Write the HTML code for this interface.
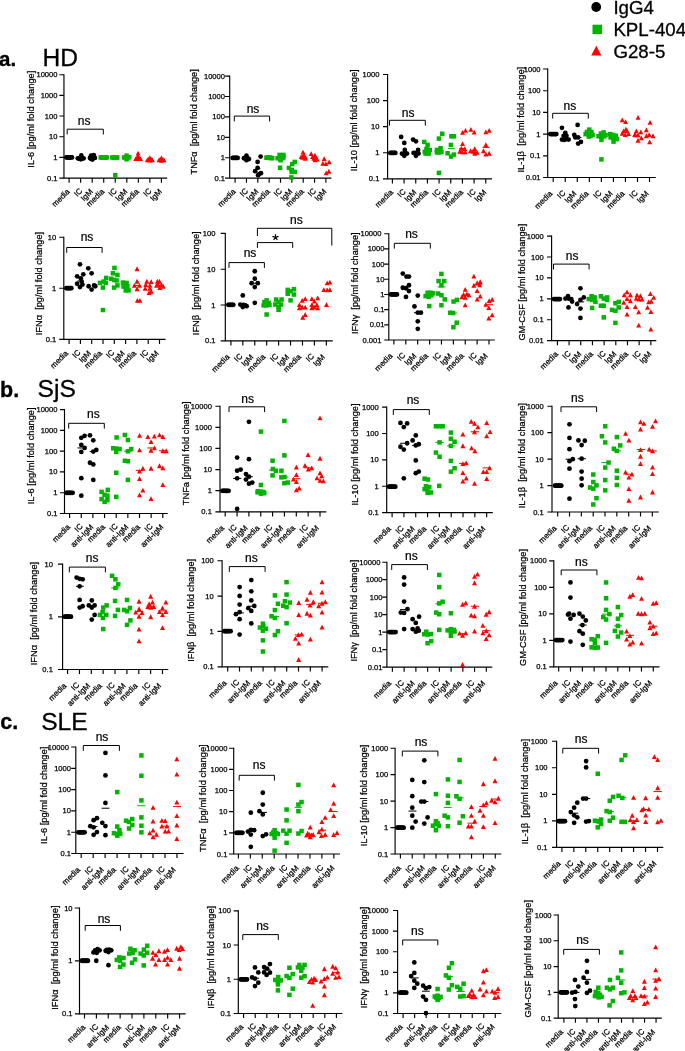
<!DOCTYPE html>
<html><head><meta charset="utf-8"><title>Figure</title>
<style>html,body{margin:0;padding:0;background:#fff}svg{display:block;will-change:transform;opacity:0.999}text{font-family:'Liberation Sans', sans-serif;fill:#000}text{stroke:#000;stroke-width:.3px}.p text{stroke-width:.25px}.p text.n{stroke-width:.22px}</style>
</head><body>
<svg width="685" height="1051" viewBox="0 0 685 1051">
<rect width="685" height="1051" fill="#fff"/>
<circle cx="596.2" cy="7" r="4.9" fill="#000"/>
<rect x="592.5" y="24.7" width="9.6" height="9.4" fill="#00b400"/>
<path d="M596.3 45.7L601.4 55.5H591.2Z" fill="#ff0000"/>
<text x="613.4" y="13.5" font-size="18.7">IgG4</text>
<text x="613.4" y="35.6" font-size="18.7">KPL-404</text>
<text x="613.4" y="57.8" font-size="18.7">G28-5</text>
<text x="-1" y="66.4" font-size="20.5" font-weight="bold" stroke-width="0.1">a.</text>
<text x="42.5" y="65.6" font-size="24.6">HD</text>
<text x="0" y="396.7" font-size="21.5" font-weight="bold" stroke-width="0.1">b.</text>
<text x="37.6" y="397.2" font-size="24.6">SjS</text>
<text x="0.3" y="728.5" font-size="21.5" font-weight="bold" stroke-width="0.1">c.</text>
<text x="41.2" y="730.4" font-size="24.6">SLE</text>
<g id="a1" class="p">
<path d="M63.95 74.2V178.05H167.2" fill="none" stroke="#000" stroke-width="1.15"/>
<text x="57.45" y="77.2" text-anchor="end" font-size="7.55">10000</text>
<text x="57.45" y="97.87" text-anchor="end" font-size="7.55">1000</text>
<text x="57.45" y="118.54" text-anchor="end" font-size="7.55">100</text>
<text x="57.45" y="139.21" text-anchor="end" font-size="7.55">10</text>
<text x="57.45" y="159.88" text-anchor="end" font-size="7.55">1</text>
<text x="57.45" y="180.55" text-anchor="end" font-size="7.55">0.1</text>
<path d="M59.35 74.7H63.95M59.35 95.37H63.95M59.35 116.04H63.95M59.35 136.71H63.95M59.35 157.38H63.95M59.35 178.05H63.95M69.1 178.05V182.65M80.64 178.05V182.65M92.18 178.05V182.65M103.72 178.05V182.65M115.26 178.05V182.65M126.8 178.05V182.65M138.34 178.05V182.65M149.88 178.05V182.65M161.42 178.05V182.65" fill="none" stroke="#000" stroke-width="1.15"/>
<text transform="translate(70.2 192.15) rotate(-45)" text-anchor="end" font-size="7.9">media</text>
<text transform="translate(82.74 191.35) rotate(-45)" text-anchor="end" font-size="7.9">IC</text>
<text transform="translate(93.28 192.15) rotate(-45)" text-anchor="end" font-size="7.9">IgM</text>
<text transform="translate(104.82 192.15) rotate(-45)" text-anchor="end" font-size="7.9">media</text>
<text transform="translate(117.36 191.35) rotate(-45)" text-anchor="end" font-size="7.9">IC</text>
<text transform="translate(127.9 192.15) rotate(-45)" text-anchor="end" font-size="7.9">IgM</text>
<text transform="translate(139.44 192.15) rotate(-45)" text-anchor="end" font-size="7.9">media</text>
<text transform="translate(151.98 191.35) rotate(-45)" text-anchor="end" font-size="7.9">IC</text>
<text transform="translate(162.52 192.15) rotate(-45)" text-anchor="end" font-size="7.9">IgM</text>
<text transform="translate(34.35 167.8) rotate(-90)" font-size="9.8" textLength="97.1" lengthAdjust="spacingAndGlyphs" xml:space="preserve">IL-6 [pg/ml fold change]</text>
<path d="M67.2 134.5V129.2H103.3V134.5" fill="none" stroke="#000" stroke-width="1.0"/>
<text x="84.1" y="124.7" class="n" text-anchor="middle" font-size="12">ns</text>
<circle cx="66.32" cy="157.44" r="2.38" fill="#000000"/>
<circle cx="67.32" cy="157.44" r="2.38" fill="#000000"/>
<circle cx="68.32" cy="157.44" r="2.38" fill="#000000"/>
<circle cx="69.15" cy="157.44" r="2.38" fill="#000000"/>
<circle cx="69.99" cy="157.44" r="2.38" fill="#000000"/>
<circle cx="70.98" cy="157.44" r="2.38" fill="#000000"/>
<circle cx="71.98" cy="157.44" r="2.38" fill="#000000"/>
<circle cx="77.81" cy="158.28" r="2.38" fill="#000000"/>
<circle cx="78.97" cy="158.61" r="2.38" fill="#000000"/>
<circle cx="80.14" cy="157.94" r="2.38" fill="#000000"/>
<circle cx="81.3" cy="155.45" r="2.38" fill="#000000"/>
<circle cx="82.47" cy="158.61" r="2.38" fill="#000000"/>
<circle cx="83.63" cy="158.28" r="2.38" fill="#000000"/>
<circle cx="80.8" cy="159.27" r="2.38" fill="#000000"/>
<circle cx="89.96" cy="157.94" r="2.38" fill="#000000"/>
<circle cx="91.12" cy="155.61" r="2.38" fill="#000000"/>
<circle cx="92.45" cy="156.94" r="2.38" fill="#000000"/>
<circle cx="93.78" cy="155.11" r="2.38" fill="#000000"/>
<circle cx="94.95" cy="157.94" r="2.38" fill="#000000"/>
<circle cx="92.45" cy="159.61" r="2.38" fill="#000000"/>
<circle cx="90.79" cy="158.78" r="2.38" fill="#000000"/>
<rect x="98.52" y="155.19" width="4.5" height="4.5" fill="#00b400"/>
<rect x="99.69" y="155.19" width="4.5" height="4.5" fill="#00b400"/>
<rect x="100.85" y="155.36" width="4.5" height="4.5" fill="#00b400"/>
<rect x="102.02" y="155.19" width="4.5" height="4.5" fill="#00b400"/>
<rect x="103.18" y="155.36" width="4.5" height="4.5" fill="#00b400"/>
<rect x="104.35" y="155.19" width="4.5" height="4.5" fill="#00b400"/>
<rect x="101.35" y="155.03" width="4.5" height="4.5" fill="#00b400"/>
<rect x="110.17" y="155.19" width="4.5" height="4.5" fill="#00b400"/>
<rect x="111.34" y="155.36" width="4.5" height="4.5" fill="#00b400"/>
<rect x="112.67" y="155.19" width="4.5" height="4.5" fill="#00b400"/>
<rect x="113.83" y="155.03" width="4.5" height="4.5" fill="#00b400"/>
<rect x="115" y="155.36" width="4.5" height="4.5" fill="#00b400"/>
<rect x="112.67" y="155.69" width="4.5" height="4.5" fill="#00b400"/>
<rect x="113" y="173" width="4.5" height="4.5" fill="#00b400"/>
<rect x="121.82" y="155.19" width="4.5" height="4.5" fill="#00b400"/>
<rect x="122.99" y="155.36" width="4.5" height="4.5" fill="#00b400"/>
<rect x="124.32" y="153.36" width="4.5" height="4.5" fill="#00b400"/>
<rect x="124.32" y="157.02" width="4.5" height="4.5" fill="#00b400"/>
<rect x="125.65" y="155.19" width="4.5" height="4.5" fill="#00b400"/>
<rect x="126.98" y="155.03" width="4.5" height="4.5" fill="#00b400"/>
<rect x="124.32" y="155.19" width="4.5" height="4.5" fill="#00b400"/>
<path d="M135.72 156.21L138.22 161.01H133.22Z" fill="#ff0000"/>
<path d="M136.88 155.54L139.38 160.34H134.38Z" fill="#ff0000"/>
<path d="M138.05 150.72L140.55 155.52H135.55Z" fill="#ff0000"/>
<path d="M138.05 153.38L140.55 158.18H135.55Z" fill="#ff0000"/>
<path d="M139.21 155.88L141.71 160.68H136.71Z" fill="#ff0000"/>
<path d="M140.55 156.21L143.05 161.01H138.05Z" fill="#ff0000"/>
<path d="M138.05 156.21L140.55 161.01H135.55Z" fill="#ff0000"/>
<path d="M147.37 157.54L149.87 162.34H144.87Z" fill="#ff0000"/>
<path d="M148.53 156.87L151.03 161.67H146.03Z" fill="#ff0000"/>
<path d="M149.87 155.21L152.37 160.01H147.37Z" fill="#ff0000"/>
<path d="M149.87 157.71L152.37 162.51H147.37Z" fill="#ff0000"/>
<path d="M151.2 157.04L153.7 161.84H148.7Z" fill="#ff0000"/>
<path d="M152.36 157.54L154.86 162.34H149.86Z" fill="#ff0000"/>
<path d="M159.02 157.54L161.52 162.34H156.52Z" fill="#ff0000"/>
<path d="M160.18 156.87L162.68 161.67H157.68Z" fill="#ff0000"/>
<path d="M161.51 155.54L164.01 160.34H159.01Z" fill="#ff0000"/>
<path d="M161.51 158.04L164.01 162.84H159.01Z" fill="#ff0000"/>
<path d="M162.85 157.04L165.35 161.84H160.35Z" fill="#ff0000"/>
<path d="M164.01 157.54L166.51 162.34H161.51Z" fill="#ff0000"/>
</g>
<g id="a2" class="p">
<path d="M229.7 75.6V178.1H331.4" fill="none" stroke="#000" stroke-width="1.15"/>
<text x="224.95" y="78.6" text-anchor="end" font-size="7.55">10000</text>
<text x="224.95" y="99" text-anchor="end" font-size="7.55">1000</text>
<text x="224.95" y="119.4" text-anchor="end" font-size="7.55">100</text>
<text x="224.95" y="139.8" text-anchor="end" font-size="7.55">10</text>
<text x="224.95" y="160.2" text-anchor="end" font-size="7.55">1</text>
<text x="224.95" y="180.6" text-anchor="end" font-size="7.55">0.1</text>
<path d="M225.1 76.1H229.7M225.1 96.5H229.7M225.1 116.9H229.7M225.1 137.3H229.7M225.1 157.7H229.7M225.1 178.1H229.7M235.1 178.1V182.7M246.45 178.1V182.7M257.8 178.1V182.7M269.15 178.1V182.7M280.5 178.1V182.7M291.85 178.1V182.7M303.2 178.1V182.7M314.55 178.1V182.7M325.9 178.1V182.7" fill="none" stroke="#000" stroke-width="1.15"/>
<text transform="translate(236.2 192.2) rotate(-45)" text-anchor="end" font-size="7.9">media</text>
<text transform="translate(248.55 191.4) rotate(-45)" text-anchor="end" font-size="7.9">IC</text>
<text transform="translate(258.9 192.2) rotate(-45)" text-anchor="end" font-size="7.9">IgM</text>
<text transform="translate(270.25 192.2) rotate(-45)" text-anchor="end" font-size="7.9">media</text>
<text transform="translate(282.6 191.4) rotate(-45)" text-anchor="end" font-size="7.9">IC</text>
<text transform="translate(292.95 192.2) rotate(-45)" text-anchor="end" font-size="7.9">IgM</text>
<text transform="translate(304.3 192.2) rotate(-45)" text-anchor="end" font-size="7.9">media</text>
<text transform="translate(316.65 191.4) rotate(-45)" text-anchor="end" font-size="7.9">IC</text>
<text transform="translate(327 192.2) rotate(-45)" text-anchor="end" font-size="7.9">IgM</text>
<text transform="translate(196.6 174.4) rotate(-90)" font-size="9.8" textLength="105.1" lengthAdjust="spacingAndGlyphs" xml:space="preserve">TNFα  [pg/ml fold change]</text>
<path d="M234.3 121.4V116.1H269.6V121.4" fill="none" stroke="#000" stroke-width="1.0"/>
<text x="253" y="112.5" class="n" text-anchor="middle" font-size="12">ns</text>
<path d="M255.62 168.56H260.28" stroke="#000000" stroke-width="1.0"/>
<circle cx="232.66" cy="157.91" r="2.38" fill="#000000"/>
<circle cx="233.66" cy="157.91" r="2.38" fill="#000000"/>
<circle cx="234.65" cy="157.91" r="2.38" fill="#000000"/>
<circle cx="235.65" cy="157.91" r="2.38" fill="#000000"/>
<circle cx="236.65" cy="157.91" r="2.38" fill="#000000"/>
<circle cx="237.65" cy="157.91" r="2.38" fill="#000000"/>
<circle cx="243.97" cy="158.25" r="2.38" fill="#000000"/>
<circle cx="245.3" cy="157.91" r="2.38" fill="#000000"/>
<circle cx="246.47" cy="155.75" r="2.38" fill="#000000"/>
<circle cx="246.47" cy="160.24" r="2.38" fill="#000000"/>
<circle cx="247.63" cy="158.25" r="2.38" fill="#000000"/>
<circle cx="248.97" cy="159.08" r="2.38" fill="#000000"/>
<circle cx="246.47" cy="158.25" r="2.38" fill="#000000"/>
<circle cx="260.61" cy="156.58" r="2.38" fill="#000000"/>
<circle cx="257.62" cy="161.91" r="2.38" fill="#000000"/>
<circle cx="257.62" cy="167.9" r="2.38" fill="#000000"/>
<circle cx="255.12" cy="171.23" r="2.38" fill="#000000"/>
<circle cx="260.95" cy="173.22" r="2.38" fill="#000000"/>
<circle cx="258.12" cy="175.22" r="2.38" fill="#000000"/>
<circle cx="259.28" cy="174.06" r="2.38" fill="#000000"/>
<rect x="264.19" y="155.5" width="4.5" height="4.5" fill="#00b400"/>
<rect x="265.35" y="155.33" width="4.5" height="4.5" fill="#00b400"/>
<rect x="266.52" y="155.66" width="4.5" height="4.5" fill="#00b400"/>
<rect x="267.68" y="155.5" width="4.5" height="4.5" fill="#00b400"/>
<rect x="268.85" y="155.66" width="4.5" height="4.5" fill="#00b400"/>
<rect x="270.01" y="156" width="4.5" height="4.5" fill="#00b400"/>
<rect x="267.02" y="155.16" width="4.5" height="4.5" fill="#00b400"/>
<rect x="277.34" y="152.67" width="4.5" height="4.5" fill="#00b400"/>
<rect x="281.16" y="152.67" width="4.5" height="4.5" fill="#00b400"/>
<rect x="277.34" y="156" width="4.5" height="4.5" fill="#00b400"/>
<rect x="280" y="156" width="4.5" height="4.5" fill="#00b400"/>
<rect x="275.34" y="156" width="4.5" height="4.5" fill="#00b400"/>
<rect x="281.16" y="155.16" width="4.5" height="4.5" fill="#00b400"/>
<rect x="277.84" y="165.48" width="4.5" height="4.5" fill="#00b400"/>
<rect x="278.33" y="157.99" width="4.5" height="4.5" fill="#00b400"/>
<rect x="292.48" y="159.66" width="4.5" height="4.5" fill="#00b400"/>
<rect x="289.98" y="161.82" width="4.5" height="4.5" fill="#00b400"/>
<rect x="286.66" y="165.65" width="4.5" height="4.5" fill="#00b400"/>
<rect x="289.48" y="167.65" width="4.5" height="4.5" fill="#00b400"/>
<rect x="292.48" y="169.64" width="4.5" height="4.5" fill="#00b400"/>
<rect x="289.48" y="169.64" width="4.5" height="4.5" fill="#00b400"/>
<rect x="289.15" y="175.13" width="4.5" height="4.5" fill="#00b400"/>
<path d="M303.05 149.69L305.55 154.49H300.55Z" fill="#ff0000"/>
<path d="M301.22 154.18L303.72 158.98H298.72Z" fill="#ff0000"/>
<path d="M302.55 155.01L305.05 159.81H300.05Z" fill="#ff0000"/>
<path d="M304.22 154.18L306.72 158.98H301.72Z" fill="#ff0000"/>
<path d="M305.55 155.01L308.05 159.81H303.05Z" fill="#ff0000"/>
<path d="M303.72 152.52L306.22 157.32H301.22Z" fill="#ff0000"/>
<path d="M305.05 155.85L307.55 160.65H302.55Z" fill="#ff0000"/>
<path d="M311.21 151.19L313.71 155.99H308.71Z" fill="#ff0000"/>
<path d="M312.54 154.18L315.04 158.98H310.04Z" fill="#ff0000"/>
<path d="M315.03 152.85L317.53 157.65H312.53Z" fill="#ff0000"/>
<path d="M313.87 155.85L316.37 160.65H311.37Z" fill="#ff0000"/>
<path d="M315.87 155.51L318.37 160.31H313.37Z" fill="#ff0000"/>
<path d="M317.2 156.68L319.7 161.48H314.7Z" fill="#ff0000"/>
<path d="M315.03 157.51L317.53 162.31H312.53Z" fill="#ff0000"/>
<path d="M324.19 156.18L326.69 160.98H321.69Z" fill="#ff0000"/>
<path d="M329.18 159.51L331.68 164.31H326.68Z" fill="#ff0000"/>
<path d="M322.85 160.84L325.35 165.64H320.35Z" fill="#ff0000"/>
<path d="M325.85 161.17L328.35 165.97H323.35Z" fill="#ff0000"/>
<path d="M328.85 168.83L331.35 173.63H326.35Z" fill="#ff0000"/>
<path d="M326.18 170.49L328.68 175.29H323.68Z" fill="#ff0000"/>
</g>
<g id="a3" class="p">
<path d="M387.6 74V178.8H492" fill="none" stroke="#000" stroke-width="1.15"/>
<text x="379.35" y="77" text-anchor="end" font-size="7.55">1000</text>
<text x="379.35" y="103.08" text-anchor="end" font-size="7.55">100</text>
<text x="379.35" y="129.15" text-anchor="end" font-size="7.55">10</text>
<text x="379.35" y="155.23" text-anchor="end" font-size="7.55">1</text>
<text x="379.35" y="181.3" text-anchor="end" font-size="7.55">0.1</text>
<path d="M383 74.5H387.6M383 100.58H387.6M383 126.65H387.6M383 152.73H387.6M383 178.8H387.6M392.4 178.8V183.4M404.07 178.8V183.4M415.74 178.8V183.4M427.41 178.8V183.4M439.08 178.8V183.4M450.75 178.8V183.4M462.42 178.8V183.4M474.09 178.8V183.4M485.76 178.8V183.4" fill="none" stroke="#000" stroke-width="1.15"/>
<text transform="translate(393.5 192.9) rotate(-45)" text-anchor="end" font-size="7.9">media</text>
<text transform="translate(406.17 192.1) rotate(-45)" text-anchor="end" font-size="7.9">IC</text>
<text transform="translate(416.84 192.9) rotate(-45)" text-anchor="end" font-size="7.9">IgM</text>
<text transform="translate(428.51 192.9) rotate(-45)" text-anchor="end" font-size="7.9">media</text>
<text transform="translate(441.18 192.1) rotate(-45)" text-anchor="end" font-size="7.9">IC</text>
<text transform="translate(451.85 192.9) rotate(-45)" text-anchor="end" font-size="7.9">IgM</text>
<text transform="translate(463.52 192.9) rotate(-45)" text-anchor="end" font-size="7.9">media</text>
<text transform="translate(476.19 192.1) rotate(-45)" text-anchor="end" font-size="7.9">IC</text>
<text transform="translate(486.86 192.9) rotate(-45)" text-anchor="end" font-size="7.9">IgM</text>
<text transform="translate(356.85 171.3) rotate(-90)" font-size="9.8" textLength="102" lengthAdjust="spacingAndGlyphs" xml:space="preserve">IL-10 [pg/ml fold change]</text>
<path d="M389.5 125.6V120.3H425.3V125.6" fill="none" stroke="#000" stroke-width="1.0"/>
<text x="408.1" y="116.6" class="n" text-anchor="middle" font-size="12">ns</text>
<path d="M447.74 148.59H454.73" stroke="#00b400" stroke-width="1.0"/>
<path d="M482.52 147.43H489.67" stroke="#ff0000" stroke-width="1.0"/>
<path d="M459.22 148.59H465.88" stroke="#ff0000" stroke-width="1.0"/>
<circle cx="390.32" cy="152.92" r="2.38" fill="#000000"/>
<circle cx="391.32" cy="152.92" r="2.38" fill="#000000"/>
<circle cx="392.32" cy="152.92" r="2.38" fill="#000000"/>
<circle cx="393.32" cy="152.92" r="2.38" fill="#000000"/>
<circle cx="394.32" cy="152.92" r="2.38" fill="#000000"/>
<circle cx="395.32" cy="152.92" r="2.38" fill="#000000"/>
<circle cx="401.14" cy="136.94" r="2.38" fill="#000000"/>
<circle cx="404.3" cy="142.94" r="2.38" fill="#000000"/>
<circle cx="404.8" cy="149.93" r="2.38" fill="#000000"/>
<circle cx="401.97" cy="153.59" r="2.38" fill="#000000"/>
<circle cx="403.64" cy="154.09" r="2.38" fill="#000000"/>
<circle cx="405.3" cy="153.25" r="2.38" fill="#000000"/>
<circle cx="406.97" cy="153.59" r="2.38" fill="#000000"/>
<circle cx="404.3" cy="155.75" r="2.38" fill="#000000"/>
<circle cx="413.12" cy="139.61" r="2.38" fill="#000000"/>
<circle cx="415.95" cy="141.27" r="2.38" fill="#000000"/>
<circle cx="418.12" cy="149.93" r="2.38" fill="#000000"/>
<circle cx="413.62" cy="152.92" r="2.38" fill="#000000"/>
<circle cx="415.95" cy="152.92" r="2.38" fill="#000000"/>
<circle cx="418.61" cy="153.59" r="2.38" fill="#000000"/>
<circle cx="415.95" cy="155.75" r="2.38" fill="#000000"/>
<rect x="422.02" y="139.69" width="4.5" height="4.5" fill="#00b400"/>
<rect x="425.35" y="142.68" width="4.5" height="4.5" fill="#00b400"/>
<rect x="424.19" y="146.84" width="4.5" height="4.5" fill="#00b400"/>
<rect x="422.52" y="149.67" width="4.5" height="4.5" fill="#00b400"/>
<rect x="424.69" y="150.17" width="4.5" height="4.5" fill="#00b400"/>
<rect x="426.68" y="149.67" width="4.5" height="4.5" fill="#00b400"/>
<rect x="423.35" y="151.34" width="4.5" height="4.5" fill="#00b400"/>
<rect x="426.35" y="151.34" width="4.5" height="4.5" fill="#00b400"/>
<rect x="427.51" y="147.68" width="4.5" height="4.5" fill="#00b400"/>
<rect x="440" y="131.53" width="4.5" height="4.5" fill="#00b400"/>
<rect x="436.67" y="136.36" width="4.5" height="4.5" fill="#00b400"/>
<rect x="438.33" y="146.01" width="4.5" height="4.5" fill="#00b400"/>
<rect x="434.67" y="147.68" width="4.5" height="4.5" fill="#00b400"/>
<rect x="434.67" y="150.17" width="4.5" height="4.5" fill="#00b400"/>
<rect x="437" y="150.17" width="4.5" height="4.5" fill="#00b400"/>
<rect x="439.16" y="149.67" width="4.5" height="4.5" fill="#00b400"/>
<rect x="436.67" y="170.64" width="4.5" height="4.5" fill="#00b400"/>
<rect x="449.15" y="134.03" width="4.5" height="4.5" fill="#00b400"/>
<rect x="451.65" y="134.03" width="4.5" height="4.5" fill="#00b400"/>
<rect x="448.65" y="142.68" width="4.5" height="4.5" fill="#00b400"/>
<rect x="445.32" y="151" width="4.5" height="4.5" fill="#00b400"/>
<rect x="448.82" y="154.33" width="4.5" height="4.5" fill="#00b400"/>
<rect x="451.65" y="152.33" width="4.5" height="4.5" fill="#00b400"/>
<path d="M465.54 128.05L468.04 132.85H463.04Z" fill="#ff0000"/>
<path d="M462.55 130.05L465.05 134.85H460.05Z" fill="#ff0000"/>
<path d="M462.55 141.2L465.05 146H460.05Z" fill="#ff0000"/>
<path d="M461.38 145.86L463.88 150.66H458.88Z" fill="#ff0000"/>
<path d="M464.71 146.19L467.21 150.99H462.21Z" fill="#ff0000"/>
<path d="M459.72 148.86L462.22 153.66H457.22Z" fill="#ff0000"/>
<path d="M462.22 149.52L464.72 154.32H459.72Z" fill="#ff0000"/>
<path d="M465.21 149.52L467.71 154.32H462.71Z" fill="#ff0000"/>
<path d="M470.87 127.06L473.37 131.86H468.37Z" fill="#ff0000"/>
<path d="M474.2 129.72L476.7 134.52H471.7Z" fill="#ff0000"/>
<path d="M474.7 146.19L477.2 150.99H472.2Z" fill="#ff0000"/>
<path d="M470.54 148.36L473.04 153.16H468.04Z" fill="#ff0000"/>
<path d="M473.03 148.86L475.53 153.66H470.53Z" fill="#ff0000"/>
<path d="M475.2 149.52L477.7 154.32H472.7Z" fill="#ff0000"/>
<path d="M477.19 150.02L479.69 154.82H474.69Z" fill="#ff0000"/>
<path d="M474.7 150.85L477.2 155.65H472.2Z" fill="#ff0000"/>
<path d="M489.18 127.89L491.68 132.69H486.68Z" fill="#ff0000"/>
<path d="M485.85 129.55L488.35 134.35H483.35Z" fill="#ff0000"/>
<path d="M485.85 142.2L488.35 147H483.35Z" fill="#ff0000"/>
<path d="M483.52 148.36L486.02 153.16H481.02Z" fill="#ff0000"/>
<path d="M489.18 150.85L491.68 155.65H486.68Z" fill="#ff0000"/>
<path d="M485.85 151.69L488.35 156.49H483.35Z" fill="#ff0000"/>
</g>
<g id="a4" class="p">
<path d="M547.7 68.5V177.5H655.8" fill="none" stroke="#000" stroke-width="1.15"/>
<text x="540.55" y="71.5" text-anchor="end" font-size="7.55">1000</text>
<text x="540.55" y="93.2" text-anchor="end" font-size="7.55">100</text>
<text x="540.55" y="114.9" text-anchor="end" font-size="7.55">10</text>
<text x="540.55" y="136.6" text-anchor="end" font-size="7.55">1</text>
<text x="540.55" y="158.3" text-anchor="end" font-size="7.55">0.1</text>
<text x="540.55" y="180" text-anchor="end" font-size="7.55">0.01</text>
<path d="M543.1 69H547.7M543.1 90.7H547.7M543.1 112.4H547.7M543.1 134.1H547.7M543.1 155.8H547.7M543.1 177.5H547.7M553.2 177.5V182.1M565.24 177.5V182.1M577.28 177.5V182.1M589.32 177.5V182.1M601.36 177.5V182.1M613.4 177.5V182.1M625.44 177.5V182.1M637.48 177.5V182.1M649.52 177.5V182.1" fill="none" stroke="#000" stroke-width="1.15"/>
<text transform="translate(552.9 194.2) rotate(-45)" text-anchor="end" font-size="7.9">media</text>
<text transform="translate(565.94 193.4) rotate(-45)" text-anchor="end" font-size="7.9">IC</text>
<text transform="translate(576.98 194.2) rotate(-45)" text-anchor="end" font-size="7.9">IgM</text>
<text transform="translate(589.02 194.2) rotate(-45)" text-anchor="end" font-size="7.9">media</text>
<text transform="translate(602.06 193.4) rotate(-45)" text-anchor="end" font-size="7.9">IC</text>
<text transform="translate(613.1 194.2) rotate(-45)" text-anchor="end" font-size="7.9">IgM</text>
<text transform="translate(625.14 194.2) rotate(-45)" text-anchor="end" font-size="7.9">media</text>
<text transform="translate(638.18 193.4) rotate(-45)" text-anchor="end" font-size="7.9">IC</text>
<text transform="translate(649.22 194.2) rotate(-45)" text-anchor="end" font-size="7.9">IgM</text>
<text transform="translate(523.95 172.5) rotate(-90)" font-size="9.8" textLength="105.7" lengthAdjust="spacingAndGlyphs" xml:space="preserve">IL-1β  [pg/ml fold change]</text>
<path d="M552.7 118.6V113.3H588.3V118.6" fill="none" stroke="#000" stroke-width="1.0"/>
<text x="569.8" y="109.6" class="n" text-anchor="middle" font-size="12">ns</text>
<path d="M573.96 137.44H581.44" stroke="#000000" stroke-width="1.0"/>
<circle cx="550.32" cy="134.11" r="2.38" fill="#000000"/>
<circle cx="551.32" cy="134.11" r="2.38" fill="#000000"/>
<circle cx="552.32" cy="134.11" r="2.38" fill="#000000"/>
<circle cx="553.32" cy="134.11" r="2.38" fill="#000000"/>
<circle cx="554.32" cy="134.11" r="2.38" fill="#000000"/>
<circle cx="555.32" cy="134.11" r="2.38" fill="#000000"/>
<circle cx="556.31" cy="134.11" r="2.38" fill="#000000"/>
<circle cx="561.97" cy="127.78" r="2.38" fill="#000000"/>
<circle cx="565.3" cy="132.94" r="2.38" fill="#000000"/>
<circle cx="563.64" cy="135.77" r="2.38" fill="#000000"/>
<circle cx="566.47" cy="135.77" r="2.38" fill="#000000"/>
<circle cx="561.97" cy="139.6" r="2.38" fill="#000000"/>
<circle cx="564.3" cy="139.93" r="2.38" fill="#000000"/>
<circle cx="566.47" cy="139.1" r="2.38" fill="#000000"/>
<circle cx="568.63" cy="139.6" r="2.38" fill="#000000"/>
<circle cx="577.62" cy="124.96" r="2.38" fill="#000000"/>
<circle cx="574.29" cy="134.94" r="2.38" fill="#000000"/>
<circle cx="575.29" cy="137.44" r="2.38" fill="#000000"/>
<circle cx="578.12" cy="137.44" r="2.38" fill="#000000"/>
<circle cx="580.94" cy="141.93" r="2.38" fill="#000000"/>
<circle cx="578.12" cy="143.59" r="2.38" fill="#000000"/>
<rect x="587.02" y="127.36" width="4.5" height="4.5" fill="#00b400"/>
<rect x="584.69" y="129.69" width="4.5" height="4.5" fill="#00b400"/>
<rect x="589.18" y="129.69" width="4.5" height="4.5" fill="#00b400"/>
<rect x="583.35" y="131.86" width="4.5" height="4.5" fill="#00b400"/>
<rect x="586.35" y="132.36" width="4.5" height="4.5" fill="#00b400"/>
<rect x="588.35" y="133.52" width="4.5" height="4.5" fill="#00b400"/>
<rect x="590.34" y="132.69" width="4.5" height="4.5" fill="#00b400"/>
<rect x="586.68" y="134.35" width="4.5" height="4.5" fill="#00b400"/>
<rect x="601.33" y="130.19" width="4.5" height="4.5" fill="#00b400"/>
<rect x="598.66" y="131.36" width="4.5" height="4.5" fill="#00b400"/>
<rect x="596.33" y="134.02" width="4.5" height="4.5" fill="#00b400"/>
<rect x="599.16" y="134.35" width="4.5" height="4.5" fill="#00b400"/>
<rect x="601.99" y="134.02" width="4.5" height="4.5" fill="#00b400"/>
<rect x="599.16" y="137.68" width="4.5" height="4.5" fill="#00b400"/>
<rect x="603.32" y="132.69" width="4.5" height="4.5" fill="#00b400"/>
<rect x="599.16" y="157.15" width="4.5" height="4.5" fill="#00b400"/>
<rect x="607.98" y="131.86" width="4.5" height="4.5" fill="#00b400"/>
<rect x="610.81" y="132.69" width="4.5" height="4.5" fill="#00b400"/>
<rect x="613.64" y="133.52" width="4.5" height="4.5" fill="#00b400"/>
<rect x="608.32" y="135.19" width="4.5" height="4.5" fill="#00b400"/>
<rect x="611.31" y="136.35" width="4.5" height="4.5" fill="#00b400"/>
<rect x="614.64" y="136.85" width="4.5" height="4.5" fill="#00b400"/>
<rect x="611.31" y="139.35" width="4.5" height="4.5" fill="#00b400"/>
<rect x="609.15" y="134.02" width="4.5" height="4.5" fill="#00b400"/>
<path d="M622.22 117.56L624.72 122.36H619.72Z" fill="#ff0000"/>
<path d="M625.54 119.23L628.04 124.03H623.04Z" fill="#ff0000"/>
<path d="M625.88 126.72L628.38 131.52H623.38Z" fill="#ff0000"/>
<path d="M623.55 128.38L626.05 133.18H621.05Z" fill="#ff0000"/>
<path d="M627.21 128.38L629.71 133.18H624.71Z" fill="#ff0000"/>
<path d="M622.22 130.88L624.72 135.68H619.72Z" fill="#ff0000"/>
<path d="M625.21 132.21L627.71 137.01H622.71Z" fill="#ff0000"/>
<path d="M628.54 131.21L631.04 136.01H626.04Z" fill="#ff0000"/>
<path d="M638.03 115.07L640.53 119.87H635.53Z" fill="#ff0000"/>
<path d="M636.36 128.38L638.86 133.18H633.86Z" fill="#ff0000"/>
<path d="M640.85 129.54L643.35 134.34H638.35Z" fill="#ff0000"/>
<path d="M634.7 132.21L637.2 137.01H632.2Z" fill="#ff0000"/>
<path d="M638.03 132.54L640.53 137.34H635.53Z" fill="#ff0000"/>
<path d="M641.35 135.54L643.85 140.34H638.85Z" fill="#ff0000"/>
<path d="M638.03 137.87L640.53 142.67H635.53Z" fill="#ff0000"/>
<path d="M635.53 132.54L638.03 137.34H633.03Z" fill="#ff0000"/>
<path d="M650.01 120.06L652.51 124.86H647.51Z" fill="#ff0000"/>
<path d="M646.35 127.55L648.85 132.35H643.85Z" fill="#ff0000"/>
<path d="M649.18 132.21L651.68 137.01H646.68Z" fill="#ff0000"/>
<path d="M646.35 133.37L648.85 138.17H643.85Z" fill="#ff0000"/>
<path d="M653 133.37L655.5 138.17H650.5Z" fill="#ff0000"/>
<path d="M649.67 139.53L652.17 144.33H647.17Z" fill="#ff0000"/>
</g>
<g id="b1" class="p">
<path d="M63.8 236.7V339.3H165.5" fill="none" stroke="#000" stroke-width="1.15"/>
<text x="56.25" y="239.7" text-anchor="end" font-size="7.55">10</text>
<text x="56.25" y="290.75" text-anchor="end" font-size="7.55">1</text>
<text x="56.25" y="341.8" text-anchor="end" font-size="7.55">0.1</text>
<path d="M59.2 237.2H63.8M59.2 288.25H63.8M59.2 339.3H63.8M69.1 339.3V343.9M80.4 339.3V343.9M91.7 339.3V343.9M103 339.3V343.9M114.3 339.3V343.9M125.6 339.3V343.9M136.9 339.3V343.9M148.2 339.3V343.9M159.5 339.3V343.9" fill="none" stroke="#000" stroke-width="1.15"/>
<text transform="translate(68.7 353.8) rotate(-45)" text-anchor="end" font-size="7.9">media</text>
<text transform="translate(81 353) rotate(-45)" text-anchor="end" font-size="7.9">IC</text>
<text transform="translate(91.3 353.8) rotate(-45)" text-anchor="end" font-size="7.9">IgM</text>
<text transform="translate(102.6 353.8) rotate(-45)" text-anchor="end" font-size="7.9">media</text>
<text transform="translate(114.9 353) rotate(-45)" text-anchor="end" font-size="7.9">IC</text>
<text transform="translate(125.2 353.8) rotate(-45)" text-anchor="end" font-size="7.9">IgM</text>
<text transform="translate(136.5 353.8) rotate(-45)" text-anchor="end" font-size="7.9">media</text>
<text transform="translate(148.8 353) rotate(-45)" text-anchor="end" font-size="7.9">IC</text>
<text transform="translate(159.1 353.8) rotate(-45)" text-anchor="end" font-size="7.9">IgM</text>
<text transform="translate(42.15 335.2) rotate(-90)" font-size="9.8" textLength="103.3" lengthAdjust="spacingAndGlyphs" xml:space="preserve">IFNα  [pg/ml fold change]</text>
<path d="M66.7 252.8V247.5H102.1V252.8" fill="none" stroke="#000" stroke-width="1.0"/>
<text x="87" y="240.5" class="n" text-anchor="middle" font-size="12">ns</text>
<path d="M77.47 280.92H83.3" stroke="#000000" stroke-width="1.0"/>
<path d="M133.22 285.41H140.71" stroke="#ff0000" stroke-width="1.0"/>
<circle cx="66.32" cy="288.24" r="2.38" fill="#000000"/>
<circle cx="67.32" cy="288.24" r="2.38" fill="#000000"/>
<circle cx="68.32" cy="288.24" r="2.38" fill="#000000"/>
<circle cx="69.32" cy="288.24" r="2.38" fill="#000000"/>
<circle cx="70.32" cy="288.24" r="2.38" fill="#000000"/>
<circle cx="71.32" cy="288.24" r="2.38" fill="#000000"/>
<circle cx="79.97" cy="264.28" r="2.38" fill="#000000"/>
<circle cx="83.3" cy="274.26" r="2.38" fill="#000000"/>
<circle cx="77.14" cy="276.26" r="2.38" fill="#000000"/>
<circle cx="80.8" cy="278.26" r="2.38" fill="#000000"/>
<circle cx="81.63" cy="281.59" r="2.38" fill="#000000"/>
<circle cx="77.14" cy="283.75" r="2.38" fill="#000000"/>
<circle cx="82.47" cy="284.58" r="2.38" fill="#000000"/>
<circle cx="79.97" cy="287.08" r="2.38" fill="#000000"/>
<circle cx="88.29" cy="268.27" r="2.38" fill="#000000"/>
<circle cx="91.62" cy="273.27" r="2.38" fill="#000000"/>
<circle cx="88.62" cy="286.25" r="2.38" fill="#000000"/>
<circle cx="94.12" cy="285.41" r="2.38" fill="#000000"/>
<circle cx="95.28" cy="286.25" r="2.38" fill="#000000"/>
<circle cx="91.62" cy="289.57" r="2.38" fill="#000000"/>
<rect x="104.01" y="275.68" width="4.5" height="4.5" fill="#00b400"/>
<rect x="101.35" y="279.34" width="4.5" height="4.5" fill="#00b400"/>
<rect x="97.69" y="280.67" width="4.5" height="4.5" fill="#00b400"/>
<rect x="103.51" y="280.67" width="4.5" height="4.5" fill="#00b400"/>
<rect x="100.69" y="285.33" width="4.5" height="4.5" fill="#00b400"/>
<rect x="100.69" y="307.79" width="4.5" height="4.5" fill="#00b400"/>
<rect x="112.17" y="265.69" width="4.5" height="4.5" fill="#00b400"/>
<rect x="110.67" y="271.02" width="4.5" height="4.5" fill="#00b400"/>
<rect x="115.16" y="272.68" width="4.5" height="4.5" fill="#00b400"/>
<rect x="109.01" y="276.51" width="4.5" height="4.5" fill="#00b400"/>
<rect x="111.84" y="277.67" width="4.5" height="4.5" fill="#00b400"/>
<rect x="114.33" y="278.17" width="4.5" height="4.5" fill="#00b400"/>
<rect x="115.16" y="283.16" width="4.5" height="4.5" fill="#00b400"/>
<rect x="111.84" y="285.33" width="4.5" height="4.5" fill="#00b400"/>
<rect x="120.66" y="280.33" width="4.5" height="4.5" fill="#00b400"/>
<rect x="124.32" y="280.67" width="4.5" height="4.5" fill="#00b400"/>
<rect x="121.32" y="284.33" width="4.5" height="4.5" fill="#00b400"/>
<rect x="125.15" y="284" width="4.5" height="4.5" fill="#00b400"/>
<rect x="123.48" y="288.16" width="4.5" height="4.5" fill="#00b400"/>
<rect x="126.31" y="288.16" width="4.5" height="4.5" fill="#00b400"/>
<rect x="124.32" y="286.49" width="4.5" height="4.5" fill="#00b400"/>
<path d="M137.05 266.37L139.55 271.17H134.55Z" fill="#ff0000"/>
<path d="M137.05 278.85L139.55 283.65H134.55Z" fill="#ff0000"/>
<path d="M134.39 283.01L136.89 287.81H131.89Z" fill="#ff0000"/>
<path d="M139.55 283.01L142.05 287.81H137.05Z" fill="#ff0000"/>
<path d="M137.05 286.34L139.55 291.14H134.55Z" fill="#ff0000"/>
<path d="M137.38 297.99L139.88 302.79H134.88Z" fill="#ff0000"/>
<path d="M139.88 297.99L142.38 302.79H137.38Z" fill="#ff0000"/>
<path d="M146.87 278.85L149.37 283.65H144.37Z" fill="#ff0000"/>
<path d="M151.2 279.19L153.7 283.99H148.7Z" fill="#ff0000"/>
<path d="M145.7 282.18L148.2 286.98H143.2Z" fill="#ff0000"/>
<path d="M149.87 283.01L152.37 287.81H147.37Z" fill="#ff0000"/>
<path d="M145.21 285.84L147.71 290.64H142.71Z" fill="#ff0000"/>
<path d="M149.87 285.84L152.37 290.64H147.37Z" fill="#ff0000"/>
<path d="M151.2 288.84L153.7 293.64H148.7Z" fill="#ff0000"/>
<path d="M149.03 290.17L151.53 294.97H146.53Z" fill="#ff0000"/>
<path d="M157.35 278.85L159.85 283.65H154.85Z" fill="#ff0000"/>
<path d="M159.52 278.85L162.02 283.65H157.02Z" fill="#ff0000"/>
<path d="M158.19 282.18L160.69 286.98H155.69Z" fill="#ff0000"/>
<path d="M161.51 282.18L164.01 286.98H159.01Z" fill="#ff0000"/>
<path d="M163.18 283.85L165.68 288.65H160.68Z" fill="#ff0000"/>
<path d="M159.85 285.18L162.35 289.98H157.35Z" fill="#ff0000"/>
<path d="M156.52 283.01L159.02 287.81H154.02Z" fill="#ff0000"/>
</g>
<g id="b2" class="p">
<path d="M225.3 232.9V340.8H332.8" fill="none" stroke="#000" stroke-width="1.15"/>
<text x="215.45" y="235.9" text-anchor="end" font-size="7.55">100</text>
<text x="215.45" y="271.7" text-anchor="end" font-size="7.55">10</text>
<text x="215.45" y="307.5" text-anchor="end" font-size="7.55">1</text>
<text x="215.45" y="343.3" text-anchor="end" font-size="7.55">0.1</text>
<path d="M220.7 233.4H225.3M220.7 269.2H225.3M220.7 305H225.3M220.7 340.8H225.3M230.9 340.8V345.4M242.83 340.8V345.4M254.76 340.8V345.4M266.69 340.8V345.4M278.62 340.8V345.4M290.55 340.8V345.4M302.48 340.8V345.4M314.41 340.8V345.4M326.34 340.8V345.4" fill="none" stroke="#000" stroke-width="1.15"/>
<text transform="translate(230 357.5) rotate(-45)" text-anchor="end" font-size="7.9">media</text>
<text transform="translate(242.93 356.7) rotate(-45)" text-anchor="end" font-size="7.9">IC</text>
<text transform="translate(253.86 357.5) rotate(-45)" text-anchor="end" font-size="7.9">IgM</text>
<text transform="translate(265.79 357.5) rotate(-45)" text-anchor="end" font-size="7.9">media</text>
<text transform="translate(278.72 356.7) rotate(-45)" text-anchor="end" font-size="7.9">IC</text>
<text transform="translate(289.65 357.5) rotate(-45)" text-anchor="end" font-size="7.9">IgM</text>
<text transform="translate(301.58 357.5) rotate(-45)" text-anchor="end" font-size="7.9">media</text>
<text transform="translate(314.51 356.7) rotate(-45)" text-anchor="end" font-size="7.9">IC</text>
<text transform="translate(325.44 357.5) rotate(-45)" text-anchor="end" font-size="7.9">IgM</text>
<text transform="translate(199.35 335.2) rotate(-90)" font-size="9.8" textLength="103.9" lengthAdjust="spacingAndGlyphs" xml:space="preserve">IFNβ  [pg/ml fold change]</text>
<path d="M229 267.9V262.6H264.4V267.9" fill="none" stroke="#000" stroke-width="1.0"/>
<text x="250" y="256.6" class="n" text-anchor="middle" font-size="12">ns</text>
<path d="M257.4 247.9V242.6H292.7V247.9" fill="none" stroke="#000" stroke-width="1.0"/>
<path d="M275.5 237.4L275.5 234.2M275.5 237.4L278.54 236.41M275.5 237.4L277.38 239.99M275.5 237.4L273.62 239.99M275.5 237.4L272.46 236.41" fill="none" stroke="#000" stroke-width="1.15"/>
<path d="M257.4 236V228.3H331.8V245.5" fill="none" stroke="#000" stroke-width="1.0"/>
<text x="296.4" y="223.8" class="n" text-anchor="middle" font-size="12">ns</text>
<path d="M251.12 283.24H258.61" stroke="#000000" stroke-width="1.0"/>
<circle cx="228.32" cy="304.87" r="2.38" fill="#000000"/>
<circle cx="229.32" cy="304.87" r="2.38" fill="#000000"/>
<circle cx="230.32" cy="304.87" r="2.38" fill="#000000"/>
<circle cx="231.32" cy="304.87" r="2.38" fill="#000000"/>
<circle cx="232.32" cy="304.87" r="2.38" fill="#000000"/>
<circle cx="233.32" cy="304.87" r="2.38" fill="#000000"/>
<circle cx="242.8" cy="295.38" r="2.38" fill="#000000"/>
<circle cx="240.31" cy="304.54" r="2.38" fill="#000000"/>
<circle cx="241.97" cy="305.37" r="2.38" fill="#000000"/>
<circle cx="243.63" cy="304.87" r="2.38" fill="#000000"/>
<circle cx="245.3" cy="305.37" r="2.38" fill="#000000"/>
<circle cx="246.63" cy="306.2" r="2.38" fill="#000000"/>
<circle cx="242.8" cy="307.03" r="2.38" fill="#000000"/>
<circle cx="254.78" cy="271.25" r="2.38" fill="#000000"/>
<circle cx="254.78" cy="278.74" r="2.38" fill="#000000"/>
<circle cx="251.62" cy="283.24" r="2.38" fill="#000000"/>
<circle cx="257.78" cy="283.24" r="2.38" fill="#000000"/>
<circle cx="254.78" cy="287.06" r="2.38" fill="#000000"/>
<circle cx="254.78" cy="302.87" r="2.38" fill="#000000"/>
<rect x="264.35" y="298.13" width="4.5" height="4.5" fill="#00b400"/>
<rect x="262.19" y="299.79" width="4.5" height="4.5" fill="#00b400"/>
<rect x="266.35" y="300.62" width="4.5" height="4.5" fill="#00b400"/>
<rect x="261.35" y="303.12" width="4.5" height="4.5" fill="#00b400"/>
<rect x="264.35" y="303.12" width="4.5" height="4.5" fill="#00b400"/>
<rect x="267.18" y="302.62" width="4.5" height="4.5" fill="#00b400"/>
<rect x="264.35" y="312.27" width="4.5" height="4.5" fill="#00b400"/>
<rect x="273.84" y="297.29" width="4.5" height="4.5" fill="#00b400"/>
<rect x="279.33" y="297.29" width="4.5" height="4.5" fill="#00b400"/>
<rect x="276.33" y="299.79" width="4.5" height="4.5" fill="#00b400"/>
<rect x="273" y="302.29" width="4.5" height="4.5" fill="#00b400"/>
<rect x="278.83" y="302.29" width="4.5" height="4.5" fill="#00b400"/>
<rect x="276.33" y="304.78" width="4.5" height="4.5" fill="#00b400"/>
<rect x="276.33" y="307.61" width="4.5" height="4.5" fill="#00b400"/>
<rect x="285.48" y="287.64" width="4.5" height="4.5" fill="#00b400"/>
<rect x="291.64" y="286.98" width="4.5" height="4.5" fill="#00b400"/>
<rect x="288.31" y="288.97" width="4.5" height="4.5" fill="#00b400"/>
<rect x="285.48" y="291.47" width="4.5" height="4.5" fill="#00b400"/>
<rect x="291.64" y="292.3" width="4.5" height="4.5" fill="#00b400"/>
<rect x="288.31" y="298.13" width="4.5" height="4.5" fill="#00b400"/>
<path d="M305.21 296.31L307.71 301.11H302.71Z" fill="#ff0000"/>
<path d="M302.21 297.98L304.71 302.78H299.71Z" fill="#ff0000"/>
<path d="M299.38 302.14L301.88 306.94H296.88Z" fill="#ff0000"/>
<path d="M302.21 304.63L304.71 309.43H299.71Z" fill="#ff0000"/>
<path d="M305.21 304.63L307.71 309.43H302.71Z" fill="#ff0000"/>
<path d="M299.38 305.47L301.88 310.27H296.88Z" fill="#ff0000"/>
<path d="M305.21 312.12L307.71 316.92H302.71Z" fill="#ff0000"/>
<path d="M302.71 314.95L305.21 319.75H300.21Z" fill="#ff0000"/>
<path d="M311.87 296.31L314.37 301.11H309.37Z" fill="#ff0000"/>
<path d="M317.69 295.48L320.19 300.28H315.19Z" fill="#ff0000"/>
<path d="M314.36 298.81L316.86 303.61H311.86Z" fill="#ff0000"/>
<path d="M311.87 302.14L314.37 306.94H309.37Z" fill="#ff0000"/>
<path d="M316.86 302.14L319.36 306.94H314.36Z" fill="#ff0000"/>
<path d="M314.36 304.63L316.86 309.43H311.86Z" fill="#ff0000"/>
<path d="M311.87 305.47L314.37 310.27H309.37Z" fill="#ff0000"/>
<path d="M317.69 305.47L320.19 310.27H315.19Z" fill="#ff0000"/>
<path d="M329.84 279.67L332.34 284.47H327.34Z" fill="#ff0000"/>
<path d="M327.18 280.5L329.68 285.3H324.68Z" fill="#ff0000"/>
<path d="M323.85 287.16L326.35 291.96H321.35Z" fill="#ff0000"/>
<path d="M327.18 287.49L329.68 292.29H324.68Z" fill="#ff0000"/>
<path d="M329.84 287.16L332.34 291.96H327.34Z" fill="#ff0000"/>
<path d="M326.51 302.14L329.01 306.94H324.01Z" fill="#ff0000"/>
</g>
<g id="b3" class="p">
<path d="M388.8 233.25V340H494.8" fill="none" stroke="#000" stroke-width="1.15"/>
<text x="381.45" y="236.25" text-anchor="end" font-size="7.55">10000</text>
<text x="384.45" y="251.43" text-anchor="end" font-size="7.55">1000</text>
<text x="384.45" y="266.61" text-anchor="end" font-size="7.55">100</text>
<text x="384.45" y="281.79" text-anchor="end" font-size="7.55">10</text>
<text x="384.45" y="296.96" text-anchor="end" font-size="7.55">1</text>
<text x="384.45" y="312.14" text-anchor="end" font-size="7.55">0.1</text>
<text x="384.45" y="327.32" text-anchor="end" font-size="7.55">0.01</text>
<text x="381.45" y="342.5" text-anchor="end" font-size="7.55">0.001</text>
<path d="M384.2 233.75H388.8M384.2 248.93H388.8M384.2 264.11H388.8M384.2 279.29H388.8M384.2 294.46H388.8M384.2 309.64H388.8M384.2 324.82H388.8M384.2 340H388.8M393.9 340V344.6M405.79 340V344.6M417.68 340V344.6M429.57 340V344.6M441.46 340V344.6M453.35 340V344.6M465.24 340V344.6M477.13 340V344.6M489.02 340V344.6" fill="none" stroke="#000" stroke-width="1.15"/>
<text transform="translate(393 356.5) rotate(-45)" text-anchor="end" font-size="7.9">media</text>
<text transform="translate(405.89 355.7) rotate(-45)" text-anchor="end" font-size="7.9">IC</text>
<text transform="translate(416.78 356.5) rotate(-45)" text-anchor="end" font-size="7.9">IgM</text>
<text transform="translate(428.67 356.5) rotate(-45)" text-anchor="end" font-size="7.9">media</text>
<text transform="translate(441.56 355.7) rotate(-45)" text-anchor="end" font-size="7.9">IC</text>
<text transform="translate(452.45 356.5) rotate(-45)" text-anchor="end" font-size="7.9">IgM</text>
<text transform="translate(464.34 356.5) rotate(-45)" text-anchor="end" font-size="7.9">media</text>
<text transform="translate(477.23 355.7) rotate(-45)" text-anchor="end" font-size="7.9">IC</text>
<text transform="translate(488.12 356.5) rotate(-45)" text-anchor="end" font-size="7.9">IgM</text>
<text transform="translate(357.55 334) rotate(-90)" font-size="9.8" textLength="101.5" lengthAdjust="spacingAndGlyphs" xml:space="preserve">IFNγ  [pg/ml fold change]</text>
<path d="M394.3 248.6V243.3H430.3V248.6" fill="none" stroke="#000" stroke-width="1.0"/>
<text x="411.5" y="237.8" class="n" text-anchor="middle" font-size="12">ns</text>
<path d="M413.96 312.71H422.28" stroke="#000000" stroke-width="1.0"/>
<path d="M437.59 286.92H445.57" stroke="#00b400" stroke-width="1.0"/>
<path d="M449.73 313.05H457.22" stroke="#00b400" stroke-width="1.0"/>
<path d="M473.03 284.92H482.19" stroke="#ff0000" stroke-width="1.0"/>
<path d="M484.68 304.72H493" stroke="#ff0000" stroke-width="1.0"/>
<circle cx="390.99" cy="294.41" r="2.38" fill="#000000"/>
<circle cx="391.99" cy="294.41" r="2.38" fill="#000000"/>
<circle cx="392.99" cy="294.41" r="2.38" fill="#000000"/>
<circle cx="393.99" cy="294.41" r="2.38" fill="#000000"/>
<circle cx="394.98" cy="294.41" r="2.38" fill="#000000"/>
<circle cx="395.98" cy="294.41" r="2.38" fill="#000000"/>
<circle cx="396.98" cy="294.41" r="2.38" fill="#000000"/>
<circle cx="402.81" cy="273.6" r="2.38" fill="#000000"/>
<circle cx="406.47" cy="276.6" r="2.38" fill="#000000"/>
<circle cx="408.96" cy="276.6" r="2.38" fill="#000000"/>
<circle cx="408.96" cy="285.25" r="2.38" fill="#000000"/>
<circle cx="402.81" cy="287.75" r="2.38" fill="#000000"/>
<circle cx="405.97" cy="288.25" r="2.38" fill="#000000"/>
<circle cx="408.96" cy="291.08" r="2.38" fill="#000000"/>
<circle cx="405.97" cy="296.9" r="2.38" fill="#000000"/>
<circle cx="417.78" cy="295.57" r="2.38" fill="#000000"/>
<circle cx="414.45" cy="306.39" r="2.38" fill="#000000"/>
<circle cx="417.78" cy="312.71" r="2.38" fill="#000000"/>
<circle cx="420.94" cy="312.71" r="2.38" fill="#000000"/>
<circle cx="417.78" cy="321.37" r="2.38" fill="#000000"/>
<circle cx="417.78" cy="328.85" r="2.38" fill="#000000"/>
<rect x="425.35" y="290.49" width="4.5" height="4.5" fill="#00b400"/>
<rect x="428.35" y="290.49" width="4.5" height="4.5" fill="#00b400"/>
<rect x="430.84" y="290.99" width="4.5" height="4.5" fill="#00b400"/>
<rect x="423.35" y="293.82" width="4.5" height="4.5" fill="#00b400"/>
<rect x="426.68" y="294.65" width="4.5" height="4.5" fill="#00b400"/>
<rect x="429.18" y="292.99" width="4.5" height="4.5" fill="#00b400"/>
<rect x="427.02" y="303.81" width="4.5" height="4.5" fill="#00b400"/>
<rect x="439.16" y="271.69" width="4.5" height="4.5" fill="#00b400"/>
<rect x="436.33" y="278.84" width="4.5" height="4.5" fill="#00b400"/>
<rect x="441.99" y="278.84" width="4.5" height="4.5" fill="#00b400"/>
<rect x="439.16" y="283" width="4.5" height="4.5" fill="#00b400"/>
<rect x="435.84" y="291.32" width="4.5" height="4.5" fill="#00b400"/>
<rect x="439.16" y="292.99" width="4.5" height="4.5" fill="#00b400"/>
<rect x="442.49" y="297.15" width="4.5" height="4.5" fill="#00b400"/>
<rect x="439.16" y="302.97" width="4.5" height="4.5" fill="#00b400"/>
<rect x="454.64" y="297.65" width="4.5" height="4.5" fill="#00b400"/>
<rect x="451.31" y="299.31" width="4.5" height="4.5" fill="#00b400"/>
<rect x="447.98" y="310.46" width="4.5" height="4.5" fill="#00b400"/>
<rect x="450.81" y="310.8" width="4.5" height="4.5" fill="#00b400"/>
<rect x="454.47" y="320.45" width="4.5" height="4.5" fill="#00b400"/>
<rect x="451.15" y="324.94" width="4.5" height="4.5" fill="#00b400"/>
<path d="M465.21 287.01L467.71 291.81H462.71Z" fill="#ff0000"/>
<path d="M463.55 292.01L466.05 296.81H461.05Z" fill="#ff0000"/>
<path d="M466.88 291.51L469.38 296.31H464.38Z" fill="#ff0000"/>
<path d="M468.87 292.51L471.37 297.31H466.37Z" fill="#ff0000"/>
<path d="M461.88 294.5L464.38 299.3H459.38Z" fill="#ff0000"/>
<path d="M465.21 294.84L467.71 299.64H462.71Z" fill="#ff0000"/>
<path d="M465.21 302.49L467.71 307.29H462.71Z" fill="#ff0000"/>
<path d="M473.87 273.7L476.37 278.5H471.37Z" fill="#ff0000"/>
<path d="M480.19 279.19L482.69 283.99H477.69Z" fill="#ff0000"/>
<path d="M477.19 280.36L479.69 285.16H474.69Z" fill="#ff0000"/>
<path d="M473.87 282.85L476.37 287.65H471.37Z" fill="#ff0000"/>
<path d="M479.69 282.52L482.19 287.32H477.19Z" fill="#ff0000"/>
<path d="M477.19 288.18L479.69 292.98H474.69Z" fill="#ff0000"/>
<path d="M480.19 293.67L482.69 298.47H477.69Z" fill="#ff0000"/>
<path d="M477.19 296.67L479.69 301.47H474.69Z" fill="#ff0000"/>
<path d="M492.17 297L494.67 301.8H489.67Z" fill="#ff0000"/>
<path d="M489.18 298.16L491.68 302.96H486.68Z" fill="#ff0000"/>
<path d="M485.85 301.99L488.35 306.79H483.35Z" fill="#ff0000"/>
<path d="M488.84 305.32L491.34 310.12H486.34Z" fill="#ff0000"/>
<path d="M492.17 312.48L494.67 317.28H489.67Z" fill="#ff0000"/>
<path d="M488.84 315.8L491.34 320.6H486.34Z" fill="#ff0000"/>
</g>
<g id="b4" class="p">
<path d="M551.6 235.6V340.6H656.3" fill="none" stroke="#000" stroke-width="1.15"/>
<text x="543.65" y="238.6" text-anchor="end" font-size="7.55">1000</text>
<text x="543.65" y="259.5" text-anchor="end" font-size="7.55">100</text>
<text x="543.65" y="280.4" text-anchor="end" font-size="7.55">10</text>
<text x="543.65" y="301.3" text-anchor="end" font-size="7.55">1</text>
<text x="543.65" y="322.2" text-anchor="end" font-size="7.55">0.1</text>
<text x="543.65" y="343.1" text-anchor="end" font-size="7.55">0.01</text>
<path d="M547 236.1H551.6M547 257H551.6M547 277.9H551.6M547 298.8H551.6M547 319.7H551.6M547 340.6H551.6M557.4 340.6V345.2M569.08 340.6V345.2M580.76 340.6V345.2M592.44 340.6V345.2M604.12 340.6V345.2M615.8 340.6V345.2M627.48 340.6V345.2M639.16 340.6V345.2M650.84 340.6V345.2" fill="none" stroke="#000" stroke-width="1.15"/>
<text transform="translate(558.5 354.7) rotate(-45)" text-anchor="end" font-size="7.9">media</text>
<text transform="translate(571.18 353.9) rotate(-45)" text-anchor="end" font-size="7.9">IC</text>
<text transform="translate(581.86 354.7) rotate(-45)" text-anchor="end" font-size="7.9">IgM</text>
<text transform="translate(593.54 354.7) rotate(-45)" text-anchor="end" font-size="7.9">media</text>
<text transform="translate(606.22 353.9) rotate(-45)" text-anchor="end" font-size="7.9">IC</text>
<text transform="translate(616.9 354.7) rotate(-45)" text-anchor="end" font-size="7.9">IgM</text>
<text transform="translate(628.58 354.7) rotate(-45)" text-anchor="end" font-size="7.9">media</text>
<text transform="translate(641.26 353.9) rotate(-45)" text-anchor="end" font-size="7.9">IC</text>
<text transform="translate(651.94 354.7) rotate(-45)" text-anchor="end" font-size="7.9">IgM</text>
<text transform="translate(524.75 340.6) rotate(-90)" font-size="9.8" textLength="116.9" lengthAdjust="spacingAndGlyphs" xml:space="preserve">GM-CSF [pg/ml fold change]</text>
<path d="M553.5 269.4V264.1H589.1V269.4" fill="none" stroke="#000" stroke-width="1.0"/>
<text x="572.1" y="259.6" class="n" text-anchor="middle" font-size="12">ns</text>
<path d="M576.62 301.91H584.28" stroke="#000000" stroke-width="1.0"/>
<circle cx="553.99" cy="299.08" r="2.38" fill="#000000"/>
<circle cx="554.99" cy="299.08" r="2.38" fill="#000000"/>
<circle cx="555.99" cy="299.08" r="2.38" fill="#000000"/>
<circle cx="556.99" cy="299.08" r="2.38" fill="#000000"/>
<circle cx="557.99" cy="299.08" r="2.38" fill="#000000"/>
<circle cx="558.98" cy="299.08" r="2.38" fill="#000000"/>
<circle cx="559.98" cy="299.08" r="2.38" fill="#000000"/>
<circle cx="567.97" cy="296.08" r="2.38" fill="#000000"/>
<circle cx="565.47" cy="298.58" r="2.38" fill="#000000"/>
<circle cx="568.8" cy="298.58" r="2.38" fill="#000000"/>
<circle cx="571.3" cy="299.08" r="2.38" fill="#000000"/>
<circle cx="572.13" cy="301.57" r="2.38" fill="#000000"/>
<circle cx="568.47" cy="307.4" r="2.38" fill="#000000"/>
<circle cx="580.45" cy="288.26" r="2.38" fill="#000000"/>
<circle cx="583.78" cy="297.41" r="2.38" fill="#000000"/>
<circle cx="580.45" cy="299.91" r="2.38" fill="#000000"/>
<circle cx="577.12" cy="304.07" r="2.38" fill="#000000"/>
<circle cx="580.45" cy="308.56" r="2.38" fill="#000000"/>
<circle cx="580.45" cy="317.88" r="2.38" fill="#000000"/>
<rect x="589.35" y="294" width="4.5" height="4.5" fill="#00b400"/>
<rect x="592.35" y="295.16" width="4.5" height="4.5" fill="#00b400"/>
<rect x="586.52" y="296.83" width="4.5" height="4.5" fill="#00b400"/>
<rect x="589.85" y="297.66" width="4.5" height="4.5" fill="#00b400"/>
<rect x="593.18" y="299.66" width="4.5" height="4.5" fill="#00b400"/>
<rect x="589.85" y="305.65" width="4.5" height="4.5" fill="#00b400"/>
<rect x="591.51" y="296.83" width="4.5" height="4.5" fill="#00b400"/>
<rect x="598.67" y="294" width="4.5" height="4.5" fill="#00b400"/>
<rect x="601.5" y="296.33" width="4.5" height="4.5" fill="#00b400"/>
<rect x="604.83" y="295.16" width="4.5" height="4.5" fill="#00b400"/>
<rect x="604.83" y="297.66" width="4.5" height="4.5" fill="#00b400"/>
<rect x="598.67" y="303.48" width="4.5" height="4.5" fill="#00b400"/>
<rect x="601.5" y="303.48" width="4.5" height="4.5" fill="#00b400"/>
<rect x="601.5" y="315.13" width="4.5" height="4.5" fill="#00b400"/>
<rect x="616.48" y="299.66" width="4.5" height="4.5" fill="#00b400"/>
<rect x="613.15" y="300.99" width="4.5" height="4.5" fill="#00b400"/>
<rect x="616.48" y="305.15" width="4.5" height="4.5" fill="#00b400"/>
<rect x="609.82" y="307.65" width="4.5" height="4.5" fill="#00b400"/>
<rect x="613.15" y="308.48" width="4.5" height="4.5" fill="#00b400"/>
<rect x="613.15" y="320.63" width="4.5" height="4.5" fill="#00b400"/>
<path d="M627.05 289.52L629.55 294.32H624.55Z" fill="#ff0000"/>
<path d="M624.22 292.52L626.72 297.32H621.72Z" fill="#ff0000"/>
<path d="M630.38 292.52L632.88 297.32H627.88Z" fill="#ff0000"/>
<path d="M627.05 296.18L629.55 300.98H624.55Z" fill="#ff0000"/>
<path d="M630.38 298.34L632.88 303.14H627.88Z" fill="#ff0000"/>
<path d="M623.72 300.01L626.22 304.81H621.22Z" fill="#ff0000"/>
<path d="M627.05 304.17L629.55 308.97H624.55Z" fill="#ff0000"/>
<path d="M627.05 311.66L629.55 316.46H624.55Z" fill="#ff0000"/>
<path d="M637.03 292.52L639.53 297.32H634.53Z" fill="#ff0000"/>
<path d="M640.36 293.35L642.86 298.15H637.86Z" fill="#ff0000"/>
<path d="M636.2 295.85L638.7 300.65H633.7Z" fill="#ff0000"/>
<path d="M639.2 296.68L641.7 301.48H636.7Z" fill="#ff0000"/>
<path d="M642.03 296.68L644.53 301.48H639.53Z" fill="#ff0000"/>
<path d="M635.37 304.17L637.87 308.97H632.87Z" fill="#ff0000"/>
<path d="M638.7 309.49L641.2 314.29H636.2Z" fill="#ff0000"/>
<path d="M638.7 322.81L641.2 327.61H636.2Z" fill="#ff0000"/>
<path d="M650.35 291.19L652.85 295.99H647.85Z" fill="#ff0000"/>
<path d="M653.67 295.01L656.17 299.81H651.17Z" fill="#ff0000"/>
<path d="M651.18 298.84L653.68 303.64H648.68Z" fill="#ff0000"/>
<path d="M648.68 299.51L651.18 304.31H646.18Z" fill="#ff0000"/>
<path d="M647.52 305L650.02 309.8H645.02Z" fill="#ff0000"/>
<path d="M650.85 309.16L653.35 313.96H648.35Z" fill="#ff0000"/>
<path d="M650.85 326.63L653.35 331.43H648.35Z" fill="#ff0000"/>
</g>
<g id="c1" class="p">
<path d="M64.5 409.1V513.5H167.7" fill="none" stroke="#000" stroke-width="1.15"/>
<text x="57.45" y="412.1" text-anchor="end" font-size="7.55">10000</text>
<text x="57.45" y="432.88" text-anchor="end" font-size="7.55">1000</text>
<text x="57.45" y="453.66" text-anchor="end" font-size="7.55">100</text>
<text x="57.45" y="474.44" text-anchor="end" font-size="7.55">10</text>
<text x="57.45" y="495.22" text-anchor="end" font-size="7.55">1</text>
<text x="57.45" y="516" text-anchor="end" font-size="7.55">0.1</text>
<path d="M59.9 409.6H64.5M59.9 430.38H64.5M59.9 451.16H64.5M59.9 471.94H64.5M59.9 492.72H64.5M59.9 513.5H64.5M69.6 513.5V518.1M81.25 513.5V518.1M92.9 513.5V518.1M104.55 513.5V518.1M116.2 513.5V518.1M127.85 513.5V518.1M139.5 513.5V518.1M151.15 513.5V518.1M162.8 513.5V518.1" fill="none" stroke="#000" stroke-width="1.15"/>
<text transform="translate(70.7 527.6) rotate(-45)" text-anchor="end" font-size="7.9">media</text>
<text transform="translate(83.35 526.8) rotate(-45)" text-anchor="end" font-size="7.9">IC</text>
<text transform="translate(94 527.6) rotate(-45)" text-anchor="end" font-size="7.9">anti-IgM</text>
<text transform="translate(105.65 527.6) rotate(-45)" text-anchor="end" font-size="7.9">media</text>
<text transform="translate(118.3 526.8) rotate(-45)" text-anchor="end" font-size="7.9">IC</text>
<text transform="translate(128.95 527.6) rotate(-45)" text-anchor="end" font-size="7.9">anti-IgM</text>
<text transform="translate(140.6 527.6) rotate(-45)" text-anchor="end" font-size="7.9">media</text>
<text transform="translate(153.25 526.8) rotate(-45)" text-anchor="end" font-size="7.9">IC</text>
<text transform="translate(163.9 527.6) rotate(-45)" text-anchor="end" font-size="7.9">anti-IgM</text>
<text transform="translate(34.35 504.2) rotate(-90)" font-size="9.8" textLength="96.8" lengthAdjust="spacingAndGlyphs" xml:space="preserve">IL-6 [pg/ml fold change]</text>
<path d="M68.7 428.6V423.3H104.3V428.6" fill="none" stroke="#000" stroke-width="1.0"/>
<text x="93.3" y="418" class="n" text-anchor="middle" font-size="12">ns</text>
<path d="M77.47 447.94H84.96" stroke="#000000" stroke-width="1.0"/>
<path d="M89.62 451.6H97.44" stroke="#000000" stroke-width="1.0"/>
<path d="M124.07 451.26H131.89" stroke="#00b400" stroke-width="1.0"/>
<path d="M135.72 470.4H143.21" stroke="#ff0000" stroke-width="1.0"/>
<path d="M147.37 447.94H155.69" stroke="#ff0000" stroke-width="1.0"/>
<path d="M159.02 450.76H167.34" stroke="#ff0000" stroke-width="1.0"/>
<circle cx="66.32" cy="492.87" r="2.38" fill="#000000"/>
<circle cx="67.32" cy="492.87" r="2.38" fill="#000000"/>
<circle cx="68.32" cy="492.87" r="2.38" fill="#000000"/>
<circle cx="69.32" cy="492.87" r="2.38" fill="#000000"/>
<circle cx="70.32" cy="492.87" r="2.38" fill="#000000"/>
<circle cx="71.32" cy="492.87" r="2.38" fill="#000000"/>
<circle cx="72.65" cy="492.87" r="2.38" fill="#000000"/>
<circle cx="84.63" cy="435.79" r="2.38" fill="#000000"/>
<circle cx="81.3" cy="437.78" r="2.38" fill="#000000"/>
<circle cx="81.3" cy="444.94" r="2.38" fill="#000000"/>
<circle cx="84.63" cy="447.94" r="2.38" fill="#000000"/>
<circle cx="81.3" cy="451.93" r="2.38" fill="#000000"/>
<circle cx="81.3" cy="478.22" r="2.38" fill="#000000"/>
<circle cx="81.3" cy="495.7" r="2.38" fill="#000000"/>
<circle cx="89.96" cy="435.29" r="2.38" fill="#000000"/>
<circle cx="93.28" cy="440.28" r="2.38" fill="#000000"/>
<circle cx="96.28" cy="449.93" r="2.38" fill="#000000"/>
<circle cx="93.28" cy="451.6" r="2.38" fill="#000000"/>
<circle cx="89.96" cy="462.75" r="2.38" fill="#000000"/>
<circle cx="93.28" cy="464.41" r="2.38" fill="#000000"/>
<circle cx="93.28" cy="479.89" r="2.38" fill="#000000"/>
<rect x="105.51" y="487.62" width="4.5" height="4.5" fill="#00b400"/>
<rect x="99.35" y="489.62" width="4.5" height="4.5" fill="#00b400"/>
<rect x="102.35" y="492.62" width="4.5" height="4.5" fill="#00b400"/>
<rect x="105.18" y="493.45" width="4.5" height="4.5" fill="#00b400"/>
<rect x="99.35" y="496.78" width="4.5" height="4.5" fill="#00b400"/>
<rect x="105.18" y="497.94" width="4.5" height="4.5" fill="#00b400"/>
<rect x="102.35" y="499.6" width="4.5" height="4.5" fill="#00b400"/>
<rect x="114.33" y="435.2" width="4.5" height="4.5" fill="#00b400"/>
<rect x="111" y="446.02" width="4.5" height="4.5" fill="#00b400"/>
<rect x="114.33" y="446.35" width="4.5" height="4.5" fill="#00b400"/>
<rect x="117.33" y="446.85" width="4.5" height="4.5" fill="#00b400"/>
<rect x="114" y="449.68" width="4.5" height="4.5" fill="#00b400"/>
<rect x="114" y="470.48" width="4.5" height="4.5" fill="#00b400"/>
<rect x="114" y="494.61" width="4.5" height="4.5" fill="#00b400"/>
<rect x="122.65" y="432.71" width="4.5" height="4.5" fill="#00b400"/>
<rect x="125.65" y="437.7" width="4.5" height="4.5" fill="#00b400"/>
<rect x="128.98" y="446.85" width="4.5" height="4.5" fill="#00b400"/>
<rect x="125.65" y="449.01" width="4.5" height="4.5" fill="#00b400"/>
<rect x="122.65" y="458.5" width="4.5" height="4.5" fill="#00b400"/>
<rect x="125.65" y="459" width="4.5" height="4.5" fill="#00b400"/>
<rect x="125.65" y="477.64" width="4.5" height="4.5" fill="#00b400"/>
<path d="M139.55 432.89L142.05 437.69H137.05Z" fill="#ff0000"/>
<path d="M139.55 447.53L142.05 452.33H137.05Z" fill="#ff0000"/>
<path d="M142.88 465.84L145.38 470.64H140.38Z" fill="#ff0000"/>
<path d="M139.55 468.67L142.05 473.47H137.05Z" fill="#ff0000"/>
<path d="M139.55 476.32L142.05 481.12H137.05Z" fill="#ff0000"/>
<path d="M142.88 487.81L145.38 492.61H140.38Z" fill="#ff0000"/>
<path d="M139.55 492.47L142.05 497.27H137.05Z" fill="#ff0000"/>
<path d="M147.87 434.22L150.37 439.02H145.37Z" fill="#ff0000"/>
<path d="M154.36 433.72L156.86 438.52H151.86Z" fill="#ff0000"/>
<path d="M151.03 439.21L153.53 444.01H148.53Z" fill="#ff0000"/>
<path d="M154.36 445.54L156.86 450.34H151.86Z" fill="#ff0000"/>
<path d="M151.03 447.87L153.53 452.67H148.53Z" fill="#ff0000"/>
<path d="M151.03 465.84L153.53 470.64H148.53Z" fill="#ff0000"/>
<path d="M151.03 496.29L153.53 501.09H148.53Z" fill="#ff0000"/>
<path d="M159.52 432.56L162.02 437.36H157.02Z" fill="#ff0000"/>
<path d="M162.85 434.22L165.35 439.02H160.35Z" fill="#ff0000"/>
<path d="M162.85 448.36L165.35 453.16H160.35Z" fill="#ff0000"/>
<path d="M166.17 448.36L168.67 453.16H163.67Z" fill="#ff0000"/>
<path d="M159.52 463.34L162.02 468.14H157.02Z" fill="#ff0000"/>
<path d="M162.85 465.51L165.35 470.31H160.35Z" fill="#ff0000"/>
<path d="M162.85 482.15L165.35 486.95H160.35Z" fill="#ff0000"/>
</g>
<g id="c2" class="p">
<path d="M220 405.7V511.8H326.3" fill="none" stroke="#000" stroke-width="1.15"/>
<text x="211.85" y="408.7" text-anchor="end" font-size="7.55">10000</text>
<text x="211.85" y="429.82" text-anchor="end" font-size="7.55">1000</text>
<text x="211.85" y="450.94" text-anchor="end" font-size="7.55">100</text>
<text x="211.85" y="472.06" text-anchor="end" font-size="7.55">10</text>
<text x="211.85" y="493.18" text-anchor="end" font-size="7.55">1</text>
<text x="211.85" y="514.3" text-anchor="end" font-size="7.55">0.1</text>
<path d="M215.4 406.2H220M215.4 427.32H220M215.4 448.44H220M215.4 469.56H220M215.4 490.68H220M215.4 511.8H220M225.2 511.8V516.4M237.05 511.8V516.4M248.9 511.8V516.4M260.75 511.8V516.4M272.6 511.8V516.4M284.45 511.8V516.4M296.3 511.8V516.4M308.15 511.8V516.4M320 511.8V516.4" fill="none" stroke="#000" stroke-width="1.15"/>
<text transform="translate(224.5 528.6) rotate(-45)" text-anchor="end" font-size="7.9">media</text>
<text transform="translate(237.35 527.8) rotate(-45)" text-anchor="end" font-size="7.9">IC</text>
<text transform="translate(248.2 528.6) rotate(-45)" text-anchor="end" font-size="7.9">anti-IgM</text>
<text transform="translate(260.05 528.6) rotate(-45)" text-anchor="end" font-size="7.9">media</text>
<text transform="translate(272.9 527.8) rotate(-45)" text-anchor="end" font-size="7.9">IC</text>
<text transform="translate(283.75 528.6) rotate(-45)" text-anchor="end" font-size="7.9">anti-IgM</text>
<text transform="translate(295.6 528.6) rotate(-45)" text-anchor="end" font-size="7.9">media</text>
<text transform="translate(308.45 527.8) rotate(-45)" text-anchor="end" font-size="7.9">IC</text>
<text transform="translate(319.3 528.6) rotate(-45)" text-anchor="end" font-size="7.9">anti-IgM</text>
<text transform="translate(189.45 505.2) rotate(-90)" font-size="9.8" textLength="103.9" lengthAdjust="spacingAndGlyphs" xml:space="preserve">TNFa [pg/ml fold change]</text>
<path d="M229 412.1V406.8H264.6V412.1" fill="none" stroke="#000" stroke-width="1.0"/>
<text x="247.6" y="403.3" class="n" text-anchor="middle" font-size="12">ns</text>
<path d="M233.14 478.36H241.3" stroke="#000000" stroke-width="1.0"/>
<path d="M245.62 476.7H252.94" stroke="#000000" stroke-width="1.0"/>
<path d="M268.92 470.04H276.74" stroke="#00b400" stroke-width="1.0"/>
<path d="M280.9 477.03H288.39" stroke="#00b400" stroke-width="1.0"/>
<path d="M292.55 478.7H300.54" stroke="#ff0000" stroke-width="1.0"/>
<path d="M304.2 467.88H312.52" stroke="#ff0000" stroke-width="1.0"/>
<circle cx="222.32" cy="490.85" r="2.38" fill="#000000"/>
<circle cx="223.32" cy="490.85" r="2.38" fill="#000000"/>
<circle cx="224.32" cy="490.85" r="2.38" fill="#000000"/>
<circle cx="225.32" cy="490.85" r="2.38" fill="#000000"/>
<circle cx="226.32" cy="490.85" r="2.38" fill="#000000"/>
<circle cx="227.32" cy="490.85" r="2.38" fill="#000000"/>
<circle cx="228.65" cy="490.85" r="2.38" fill="#000000"/>
<circle cx="237.13" cy="457.56" r="2.38" fill="#000000"/>
<circle cx="240.63" cy="469.54" r="2.38" fill="#000000"/>
<circle cx="237.13" cy="470.71" r="2.38" fill="#000000"/>
<circle cx="237.13" cy="478.36" r="2.38" fill="#000000"/>
<circle cx="237.13" cy="508.99" r="2.38" fill="#000000"/>
<circle cx="248.95" cy="421.78" r="2.38" fill="#000000"/>
<circle cx="248.95" cy="459.23" r="2.38" fill="#000000"/>
<circle cx="245.96" cy="474.04" r="2.38" fill="#000000"/>
<circle cx="248.95" cy="476.7" r="2.38" fill="#000000"/>
<circle cx="245.96" cy="479.53" r="2.38" fill="#000000"/>
<circle cx="252.28" cy="482.52" r="2.38" fill="#000000"/>
<circle cx="248.95" cy="483.69" r="2.38" fill="#000000"/>
<rect x="258.68" y="429.35" width="4.5" height="4.5" fill="#00b400"/>
<rect x="258.68" y="482.77" width="4.5" height="4.5" fill="#00b400"/>
<rect x="255.69" y="488.93" width="4.5" height="4.5" fill="#00b400"/>
<rect x="258.35" y="489.26" width="4.5" height="4.5" fill="#00b400"/>
<rect x="261.18" y="489.76" width="4.5" height="4.5" fill="#00b400"/>
<rect x="258.68" y="491.42" width="4.5" height="4.5" fill="#00b400"/>
<rect x="262.01" y="490.93" width="4.5" height="4.5" fill="#00b400"/>
<rect x="255.35" y="490.09" width="4.5" height="4.5" fill="#00b400"/>
<rect x="270.33" y="458.47" width="4.5" height="4.5" fill="#00b400"/>
<rect x="270.66" y="466.8" width="4.5" height="4.5" fill="#00b400"/>
<rect x="273.66" y="468.46" width="4.5" height="4.5" fill="#00b400"/>
<rect x="270.33" y="473.12" width="4.5" height="4.5" fill="#00b400"/>
<rect x="282.15" y="418.7" width="4.5" height="4.5" fill="#00b400"/>
<rect x="282.15" y="453.15" width="4.5" height="4.5" fill="#00b400"/>
<rect x="279.15" y="468.46" width="4.5" height="4.5" fill="#00b400"/>
<rect x="279.15" y="475.12" width="4.5" height="4.5" fill="#00b400"/>
<rect x="282.15" y="474.78" width="4.5" height="4.5" fill="#00b400"/>
<rect x="285.64" y="480.27" width="4.5" height="4.5" fill="#00b400"/>
<rect x="282.15" y="480.94" width="4.5" height="4.5" fill="#00b400"/>
<path d="M296.38 464.65L298.88 469.45H293.88Z" fill="#ff0000"/>
<path d="M296.38 472.14L298.88 476.94H293.88Z" fill="#ff0000"/>
<path d="M293.38 476.8L295.88 481.6H290.88Z" fill="#ff0000"/>
<path d="M296.38 479.13L298.88 483.93H293.88Z" fill="#ff0000"/>
<path d="M299.21 485.78L301.71 490.58H296.71Z" fill="#ff0000"/>
<path d="M296.38 487.45L298.88 492.25H293.88Z" fill="#ff0000"/>
<path d="M308.03 452.17L310.53 456.97H305.53Z" fill="#ff0000"/>
<path d="M305.03 462.98L307.53 467.78H302.53Z" fill="#ff0000"/>
<path d="M311.69 465.48L314.19 470.28H309.19Z" fill="#ff0000"/>
<path d="M308.36 466.81L310.86 471.61H305.86Z" fill="#ff0000"/>
<path d="M320.01 415.56L322.51 420.36H317.51Z" fill="#ff0000"/>
<path d="M320.01 455.83L322.51 460.63H317.51Z" fill="#ff0000"/>
<path d="M320.01 470.47L322.51 475.27H317.51Z" fill="#ff0000"/>
<path d="M321.67 473.47L324.17 478.27H319.17Z" fill="#ff0000"/>
<path d="M317.02 475.47L319.52 480.27H314.52Z" fill="#ff0000"/>
<path d="M320.01 477.96L322.51 482.76H317.51Z" fill="#ff0000"/>
<path d="M323.34 478.46L325.84 483.26H320.84Z" fill="#ff0000"/>
</g>
<g id="c3" class="p">
<path d="M386.7 406.6V512.6H492.8" fill="none" stroke="#000" stroke-width="1.15"/>
<text x="378.75" y="409.6" text-anchor="end" font-size="7.55">1000</text>
<text x="378.75" y="435.98" text-anchor="end" font-size="7.55">100</text>
<text x="378.75" y="462.35" text-anchor="end" font-size="7.55">10</text>
<text x="378.75" y="488.73" text-anchor="end" font-size="7.55">1</text>
<text x="378.75" y="515.1" text-anchor="end" font-size="7.55">0.1</text>
<path d="M382.1 407.1H386.7M382.1 433.48H386.7M382.1 459.85H386.7M382.1 486.23H386.7M382.1 512.6H386.7M392.1 512.6V517.2M403.92 512.6V517.2M415.74 512.6V517.2M427.56 512.6V517.2M439.38 512.6V517.2M451.2 512.6V517.2M463.02 512.6V517.2M474.84 512.6V517.2M486.66 512.6V517.2" fill="none" stroke="#000" stroke-width="1.15"/>
<text transform="translate(391.4 529.4) rotate(-45)" text-anchor="end" font-size="7.9">media</text>
<text transform="translate(404.22 528.6) rotate(-45)" text-anchor="end" font-size="7.9">IC</text>
<text transform="translate(415.04 529.4) rotate(-45)" text-anchor="end" font-size="7.9">anti-IgM</text>
<text transform="translate(426.86 529.4) rotate(-45)" text-anchor="end" font-size="7.9">media</text>
<text transform="translate(439.68 528.6) rotate(-45)" text-anchor="end" font-size="7.9">IC</text>
<text transform="translate(450.5 529.4) rotate(-45)" text-anchor="end" font-size="7.9">anti-IgM</text>
<text transform="translate(462.32 529.4) rotate(-45)" text-anchor="end" font-size="7.9">media</text>
<text transform="translate(475.14 528.6) rotate(-45)" text-anchor="end" font-size="7.9">IC</text>
<text transform="translate(485.96 529.4) rotate(-45)" text-anchor="end" font-size="7.9">anti-IgM</text>
<text transform="translate(358.45 505.6) rotate(-90)" font-size="9.8" textLength="102.2" lengthAdjust="spacingAndGlyphs" xml:space="preserve">IL-10 [pg/ml fold change]</text>
<path d="M393.3 414.9V409.6H429.3V414.9" fill="none" stroke="#000" stroke-width="1.0"/>
<text x="413" y="403.8" class="n" text-anchor="middle" font-size="12">ns</text>
<path d="M400.14 443.25H407.96" stroke="#000000" stroke-width="1.0"/>
<path d="M412.12 445.41H419.94" stroke="#000000" stroke-width="1.0"/>
<path d="M435.42 442.42H443.74" stroke="#00b400" stroke-width="1.0"/>
<path d="M447.07 445.91H455.39" stroke="#00b400" stroke-width="1.0"/>
<path d="M459.05 463.39H467.04" stroke="#ff0000" stroke-width="1.0"/>
<path d="M470.7 431.77H479.02" stroke="#ff0000" stroke-width="1.0"/>
<path d="M482.52 467.88H490.84" stroke="#ff0000" stroke-width="1.0"/>
<circle cx="388.99" cy="486.69" r="2.38" fill="#000000"/>
<circle cx="389.99" cy="486.69" r="2.38" fill="#000000"/>
<circle cx="390.99" cy="486.69" r="2.38" fill="#000000"/>
<circle cx="391.99" cy="486.69" r="2.38" fill="#000000"/>
<circle cx="392.99" cy="486.69" r="2.38" fill="#000000"/>
<circle cx="393.98" cy="486.69" r="2.38" fill="#000000"/>
<circle cx="395.31" cy="486.69" r="2.38" fill="#000000"/>
<circle cx="400.47" cy="422.95" r="2.38" fill="#000000"/>
<circle cx="407.13" cy="423.45" r="2.38" fill="#000000"/>
<circle cx="403.8" cy="427.11" r="2.38" fill="#000000"/>
<circle cx="407.13" cy="443.25" r="2.38" fill="#000000"/>
<circle cx="400.47" cy="446.75" r="2.38" fill="#000000"/>
<circle cx="403.8" cy="449.57" r="2.38" fill="#000000"/>
<circle cx="403.8" cy="478.36" r="2.38" fill="#000000"/>
<circle cx="415.78" cy="435.43" r="2.38" fill="#000000"/>
<circle cx="412.62" cy="440.42" r="2.38" fill="#000000"/>
<circle cx="418.78" cy="444.25" r="2.38" fill="#000000"/>
<circle cx="415.78" cy="445.41" r="2.38" fill="#000000"/>
<circle cx="415.78" cy="460.39" r="2.38" fill="#000000"/>
<circle cx="418.78" cy="471.54" r="2.38" fill="#000000"/>
<circle cx="415.78" cy="473.21" r="2.38" fill="#000000"/>
<rect x="422.35" y="476.45" width="4.5" height="4.5" fill="#00b400"/>
<rect x="425.68" y="477.28" width="4.5" height="4.5" fill="#00b400"/>
<rect x="423.69" y="483.94" width="4.5" height="4.5" fill="#00b400"/>
<rect x="427.01" y="484.77" width="4.5" height="4.5" fill="#00b400"/>
<rect x="422.35" y="486.93" width="4.5" height="4.5" fill="#00b400"/>
<rect x="425.35" y="487.6" width="4.5" height="4.5" fill="#00b400"/>
<rect x="425.35" y="490.59" width="4.5" height="4.5" fill="#00b400"/>
<rect x="428.68" y="490.26" width="4.5" height="4.5" fill="#00b400"/>
<rect x="433.67" y="424.03" width="4.5" height="4.5" fill="#00b400"/>
<rect x="437" y="424.03" width="4.5" height="4.5" fill="#00b400"/>
<rect x="440.33" y="424.03" width="4.5" height="4.5" fill="#00b400"/>
<rect x="437.33" y="440.17" width="4.5" height="4.5" fill="#00b400"/>
<rect x="433.67" y="450.32" width="4.5" height="4.5" fill="#00b400"/>
<rect x="437.33" y="454.48" width="4.5" height="4.5" fill="#00b400"/>
<rect x="437" y="483.6" width="4.5" height="4.5" fill="#00b400"/>
<rect x="448.65" y="430.35" width="4.5" height="4.5" fill="#00b400"/>
<rect x="448.65" y="436.51" width="4.5" height="4.5" fill="#00b400"/>
<rect x="452.31" y="439.5" width="4.5" height="4.5" fill="#00b400"/>
<rect x="448.65" y="443.66" width="4.5" height="4.5" fill="#00b400"/>
<rect x="448.65" y="458.64" width="4.5" height="4.5" fill="#00b400"/>
<rect x="452.31" y="465.96" width="4.5" height="4.5" fill="#00b400"/>
<rect x="448.65" y="469.46" width="4.5" height="4.5" fill="#00b400"/>
<path d="M462.88 431.7L465.38 436.5H460.38Z" fill="#ff0000"/>
<path d="M462.88 443.35L465.38 448.15H460.38Z" fill="#ff0000"/>
<path d="M466.21 460.49L468.71 465.29H463.71Z" fill="#ff0000"/>
<path d="M462.88 461.32L465.38 466.12H460.38Z" fill="#ff0000"/>
<path d="M462.88 470.14L465.38 474.94H460.38Z" fill="#ff0000"/>
<path d="M466.21 475.8L468.71 480.6H463.71Z" fill="#ff0000"/>
<path d="M462.88 478.79L465.38 483.59H460.38Z" fill="#ff0000"/>
<path d="M471.2 418.88L473.7 423.68H468.7Z" fill="#ff0000"/>
<path d="M474.53 420.88L477.03 425.68H472.03Z" fill="#ff0000"/>
<path d="M477.86 424.38L480.36 429.18H475.36Z" fill="#ff0000"/>
<path d="M474.53 429.37L477.03 434.17H472.03Z" fill="#ff0000"/>
<path d="M471.53 445.51L474.03 450.31H469.03Z" fill="#ff0000"/>
<path d="M474.86 448.51L477.36 453.31H472.36Z" fill="#ff0000"/>
<path d="M474.53 480.96L477.03 485.76H472.03Z" fill="#ff0000"/>
<path d="M486.68 420.21L489.18 425.01H484.18Z" fill="#ff0000"/>
<path d="M490.01 429.2L492.51 434H487.51Z" fill="#ff0000"/>
<path d="M486.68 433.53L489.18 438.33H484.18Z" fill="#ff0000"/>
<path d="M489.51 465.48L492.01 470.28H487.01Z" fill="#ff0000"/>
<path d="M483.35 469.31L485.85 474.11H480.85Z" fill="#ff0000"/>
<path d="M486.68 469.31L489.18 474.11H484.18Z" fill="#ff0000"/>
<path d="M486.68 476.3L489.18 481.1H484.18Z" fill="#ff0000"/>
</g>
<g id="c4" class="p">
<path d="M552 405.7V512H658.8" fill="none" stroke="#000" stroke-width="1.15"/>
<text x="543.65" y="408.7" text-anchor="end" font-size="7.55">1000</text>
<text x="543.65" y="435.15" text-anchor="end" font-size="7.55">100</text>
<text x="543.65" y="461.6" text-anchor="end" font-size="7.55">10</text>
<text x="543.65" y="488.05" text-anchor="end" font-size="7.55">1</text>
<text x="543.65" y="514.5" text-anchor="end" font-size="7.55">0.1</text>
<path d="M547.4 406.2H552M547.4 432.65H552M547.4 459.1H552M547.4 485.55H552M547.4 512H552M557.7 512V516.6M569.53 512V516.6M581.36 512V516.6M593.19 512V516.6M605.02 512V516.6M616.85 512V516.6M628.68 512V516.6M640.51 512V516.6M652.34 512V516.6" fill="none" stroke="#000" stroke-width="1.15"/>
<text transform="translate(557 528.8) rotate(-45)" text-anchor="end" font-size="7.9">media</text>
<text transform="translate(569.83 528) rotate(-45)" text-anchor="end" font-size="7.9">IC</text>
<text transform="translate(580.66 528.8) rotate(-45)" text-anchor="end" font-size="7.9">anti-IgM</text>
<text transform="translate(592.49 528.8) rotate(-45)" text-anchor="end" font-size="7.9">media</text>
<text transform="translate(605.32 528) rotate(-45)" text-anchor="end" font-size="7.9">IC</text>
<text transform="translate(616.15 528.8) rotate(-45)" text-anchor="end" font-size="7.9">anti-IgM</text>
<text transform="translate(627.98 528.8) rotate(-45)" text-anchor="end" font-size="7.9">media</text>
<text transform="translate(640.81 528) rotate(-45)" text-anchor="end" font-size="7.9">IC</text>
<text transform="translate(651.64 528.8) rotate(-45)" text-anchor="end" font-size="7.9">anti-IgM</text>
<text transform="translate(524.75 508.3) rotate(-90)" font-size="9.8" textLength="105.2" lengthAdjust="spacingAndGlyphs" xml:space="preserve">IL-1β  [pg/ml fold change]</text>
<path d="M561 412.1V406.8H596.6V412.1" fill="none" stroke="#000" stroke-width="1.0"/>
<text x="577.3" y="402.1" class="n" text-anchor="middle" font-size="12">ns</text>
<path d="M565.64 459.23H573.96" stroke="#000000" stroke-width="1.0"/>
<path d="M577.62 458.73H585.94" stroke="#000000" stroke-width="1.0"/>
<path d="M601.42 462.55H609.74" stroke="#00b400" stroke-width="1.0"/>
<path d="M613.07 450.91H621.39" stroke="#00b400" stroke-width="1.0"/>
<path d="M625.05 474.2H633.37" stroke="#ff0000" stroke-width="1.0"/>
<path d="M636.7 449.57H645.02" stroke="#ff0000" stroke-width="1.0"/>
<path d="M648.52 450.91H656.84" stroke="#ff0000" stroke-width="1.0"/>
<circle cx="554.99" cy="485.69" r="2.38" fill="#000000"/>
<circle cx="555.99" cy="485.69" r="2.38" fill="#000000"/>
<circle cx="556.99" cy="485.69" r="2.38" fill="#000000"/>
<circle cx="557.99" cy="485.69" r="2.38" fill="#000000"/>
<circle cx="558.99" cy="485.69" r="2.38" fill="#000000"/>
<circle cx="559.98" cy="485.69" r="2.38" fill="#000000"/>
<circle cx="561.31" cy="485.69" r="2.38" fill="#000000"/>
<circle cx="569.47" cy="424.28" r="2.38" fill="#000000"/>
<circle cx="569.47" cy="437.93" r="2.38" fill="#000000"/>
<circle cx="569.47" cy="449.24" r="2.38" fill="#000000"/>
<circle cx="572.8" cy="459.23" r="2.38" fill="#000000"/>
<circle cx="569.47" cy="461.22" r="2.38" fill="#000000"/>
<circle cx="569.47" cy="468.71" r="2.38" fill="#000000"/>
<circle cx="569.47" cy="498.67" r="2.38" fill="#000000"/>
<circle cx="578.46" cy="440.42" r="2.38" fill="#000000"/>
<circle cx="584.78" cy="440.75" r="2.38" fill="#000000"/>
<circle cx="581.62" cy="445.08" r="2.38" fill="#000000"/>
<circle cx="581.62" cy="458.73" r="2.38" fill="#000000"/>
<circle cx="581.62" cy="471.54" r="2.38" fill="#000000"/>
<circle cx="581.62" cy="478.7" r="2.38" fill="#000000"/>
<circle cx="581.62" cy="485.35" r="2.38" fill="#000000"/>
<rect x="591.02" y="472.29" width="4.5" height="4.5" fill="#00b400"/>
<rect x="591.02" y="479.78" width="4.5" height="4.5" fill="#00b400"/>
<rect x="594.18" y="483.1" width="4.5" height="4.5" fill="#00b400"/>
<rect x="587.86" y="485.27" width="4.5" height="4.5" fill="#00b400"/>
<rect x="591.02" y="486.43" width="4.5" height="4.5" fill="#00b400"/>
<rect x="594.18" y="495.92" width="4.5" height="4.5" fill="#00b400"/>
<rect x="591.02" y="502.24" width="4.5" height="4.5" fill="#00b400"/>
<rect x="603" y="424.03" width="4.5" height="4.5" fill="#00b400"/>
<rect x="599.67" y="434.01" width="4.5" height="4.5" fill="#00b400"/>
<rect x="603" y="440.17" width="4.5" height="4.5" fill="#00b400"/>
<rect x="606.33" y="460.3" width="4.5" height="4.5" fill="#00b400"/>
<rect x="603" y="465.3" width="4.5" height="4.5" fill="#00b400"/>
<rect x="603" y="477.78" width="4.5" height="4.5" fill="#00b400"/>
<rect x="603" y="488.1" width="4.5" height="4.5" fill="#00b400"/>
<rect x="614.65" y="434.84" width="4.5" height="4.5" fill="#00b400"/>
<rect x="617.98" y="443.16" width="4.5" height="4.5" fill="#00b400"/>
<rect x="611.65" y="446.49" width="4.5" height="4.5" fill="#00b400"/>
<rect x="614.65" y="448.66" width="4.5" height="4.5" fill="#00b400"/>
<rect x="614.65" y="468.46" width="4.5" height="4.5" fill="#00b400"/>
<rect x="614.65" y="475.62" width="4.5" height="4.5" fill="#00b400"/>
<rect x="614.65" y="482.77" width="4.5" height="4.5" fill="#00b400"/>
<path d="M625.55 431.03L628.05 435.83H623.05Z" fill="#ff0000"/>
<path d="M628.88 437.69L631.38 442.49H626.38Z" fill="#ff0000"/>
<path d="M625.55 469.64L628.05 474.44H623.05Z" fill="#ff0000"/>
<path d="M631.88 471.8L634.38 476.6H629.38Z" fill="#ff0000"/>
<path d="M628.88 474.63L631.38 479.43H626.38Z" fill="#ff0000"/>
<path d="M628.88 486.28L631.38 491.08H626.38Z" fill="#ff0000"/>
<path d="M628.88 497.93L631.38 502.73H626.38Z" fill="#ff0000"/>
<path d="M640.53 419.38L643.03 424.18H638.03Z" fill="#ff0000"/>
<path d="M643.86 420.88L646.36 425.68H641.36Z" fill="#ff0000"/>
<path d="M640.53 426.71L643.03 431.51H638.03Z" fill="#ff0000"/>
<path d="M640.53 447.17L643.03 451.97H638.03Z" fill="#ff0000"/>
<path d="M640.53 453.83L643.03 458.63H638.03Z" fill="#ff0000"/>
<path d="M640.53 461.32L643.03 466.12H638.03Z" fill="#ff0000"/>
<path d="M640.53 494.6L643.03 499.4H638.03Z" fill="#ff0000"/>
<path d="M655.51 418.55L658.01 423.35H653.01Z" fill="#ff0000"/>
<path d="M652.51 423.88L655.01 428.68H650.01Z" fill="#ff0000"/>
<path d="M649.18 446.68L651.68 451.48H646.68Z" fill="#ff0000"/>
<path d="M652.51 448.51L655.01 453.31H650.01Z" fill="#ff0000"/>
<path d="M652.51 464.65L655.01 469.45H650.01Z" fill="#ff0000"/>
<path d="M652.51 471.3L655.01 476.1H650.01Z" fill="#ff0000"/>
<path d="M652.51 489.61L655.01 494.41H650.01Z" fill="#ff0000"/>
</g>
<g id="d1" class="p">
<path d="M62.6 563.6V669.5H168.3" fill="none" stroke="#000" stroke-width="1.15"/>
<text x="52.85" y="566.6" text-anchor="end" font-size="7.55">10</text>
<text x="52.85" y="619.3" text-anchor="end" font-size="7.55">1</text>
<text x="52.85" y="672" text-anchor="end" font-size="7.55">0.1</text>
<path d="M58 564.1H62.6M58 616.8H62.6M58 669.5H62.6M67.6 669.5V674.1M79.46 669.5V674.1M91.32 669.5V674.1M103.18 669.5V674.1M115.04 669.5V674.1M126.9 669.5V674.1M138.76 669.5V674.1M150.62 669.5V674.1M162.48 669.5V674.1" fill="none" stroke="#000" stroke-width="1.15"/>
<text transform="translate(66.9 686.3) rotate(-45)" text-anchor="end" font-size="7.9">media</text>
<text transform="translate(79.76 685.5) rotate(-45)" text-anchor="end" font-size="7.9">IC</text>
<text transform="translate(90.62 686.3) rotate(-45)" text-anchor="end" font-size="7.9">anti-IgM</text>
<text transform="translate(102.48 686.3) rotate(-45)" text-anchor="end" font-size="7.9">media</text>
<text transform="translate(115.34 685.5) rotate(-45)" text-anchor="end" font-size="7.9">IC</text>
<text transform="translate(126.2 686.3) rotate(-45)" text-anchor="end" font-size="7.9">anti-IgM</text>
<text transform="translate(138.06 686.3) rotate(-45)" text-anchor="end" font-size="7.9">media</text>
<text transform="translate(150.92 685.5) rotate(-45)" text-anchor="end" font-size="7.9">IC</text>
<text transform="translate(161.78 686.3) rotate(-45)" text-anchor="end" font-size="7.9">anti-IgM</text>
<text transform="translate(36.8 665.2) rotate(-90)" font-size="9.8" textLength="103.3" lengthAdjust="spacingAndGlyphs" xml:space="preserve">IFNα  [pg/ml fold change]</text>
<path d="M69.3 572.4V567.1H105.4V572.4" fill="none" stroke="#000" stroke-width="1.0"/>
<text x="92.1" y="561.6" class="n" text-anchor="middle" font-size="12">ns</text>
<path d="M75.97 586.28H83.79" stroke="#000000" stroke-width="1.0"/>
<path d="M87.96 605.41H95.94" stroke="#000000" stroke-width="1.0"/>
<path d="M111.25 587.94H119.57" stroke="#00b400" stroke-width="1.0"/>
<path d="M122.9 609.91H131.22" stroke="#00b400" stroke-width="1.0"/>
<path d="M134.88 611.57H143.21" stroke="#ff0000" stroke-width="1.0"/>
<path d="M146.53 606.25H154.85" stroke="#ff0000" stroke-width="1.0"/>
<path d="M158.35 610.91H166.67" stroke="#ff0000" stroke-width="1.0"/>
<circle cx="64.66" cy="616.73" r="2.38" fill="#000000"/>
<circle cx="65.66" cy="616.73" r="2.38" fill="#000000"/>
<circle cx="66.65" cy="616.73" r="2.38" fill="#000000"/>
<circle cx="67.65" cy="616.73" r="2.38" fill="#000000"/>
<circle cx="68.65" cy="616.73" r="2.38" fill="#000000"/>
<circle cx="69.65" cy="616.73" r="2.38" fill="#000000"/>
<circle cx="70.98" cy="616.73" r="2.38" fill="#000000"/>
<circle cx="76.64" cy="577.62" r="2.38" fill="#000000"/>
<circle cx="79.63" cy="578.79" r="2.38" fill="#000000"/>
<circle cx="82.63" cy="579.29" r="2.38" fill="#000000"/>
<circle cx="79.63" cy="586.28" r="2.38" fill="#000000"/>
<circle cx="79.63" cy="599.92" r="2.38" fill="#000000"/>
<circle cx="82.63" cy="606.25" r="2.38" fill="#000000"/>
<circle cx="79.63" cy="607.58" r="2.38" fill="#000000"/>
<circle cx="91.78" cy="600.42" r="2.38" fill="#000000"/>
<circle cx="88.79" cy="605.41" r="2.38" fill="#000000"/>
<circle cx="94.61" cy="605.41" r="2.38" fill="#000000"/>
<circle cx="91.78" cy="607.58" r="2.38" fill="#000000"/>
<circle cx="94.61" cy="614.9" r="2.38" fill="#000000"/>
<circle cx="91.78" cy="619.56" r="2.38" fill="#000000"/>
<rect x="104.34" y="603.16" width="4.5" height="4.5" fill="#00b400"/>
<rect x="101.02" y="605.33" width="4.5" height="4.5" fill="#00b400"/>
<rect x="100.35" y="609.82" width="4.5" height="4.5" fill="#00b400"/>
<rect x="97.69" y="612.65" width="4.5" height="4.5" fill="#00b400"/>
<rect x="104.01" y="612.65" width="4.5" height="4.5" fill="#00b400"/>
<rect x="100.68" y="615.65" width="4.5" height="4.5" fill="#00b400"/>
<rect x="101.02" y="626.8" width="4.5" height="4.5" fill="#00b400"/>
<rect x="109.84" y="573.54" width="4.5" height="4.5" fill="#00b400"/>
<rect x="113.16" y="577.04" width="4.5" height="4.5" fill="#00b400"/>
<rect x="115.99" y="582.03" width="4.5" height="4.5" fill="#00b400"/>
<rect x="113.16" y="585.69" width="4.5" height="4.5" fill="#00b400"/>
<rect x="112.83" y="598.67" width="4.5" height="4.5" fill="#00b400"/>
<rect x="115.66" y="607.66" width="4.5" height="4.5" fill="#00b400"/>
<rect x="112.83" y="613.65" width="4.5" height="4.5" fill="#00b400"/>
<rect x="124.81" y="597.67" width="4.5" height="4.5" fill="#00b400"/>
<rect x="127.64" y="605.66" width="4.5" height="4.5" fill="#00b400"/>
<rect x="121.98" y="607.66" width="4.5" height="4.5" fill="#00b400"/>
<rect x="124.81" y="608.99" width="4.5" height="4.5" fill="#00b400"/>
<rect x="128.14" y="618.14" width="4.5" height="4.5" fill="#00b400"/>
<rect x="124.81" y="622.63" width="4.5" height="4.5" fill="#00b400"/>
<path d="M139.05 598.85L141.55 603.65H136.55Z" fill="#ff0000"/>
<path d="M139.05 606.34L141.55 611.14H136.55Z" fill="#ff0000"/>
<path d="M135.72 609.67L138.22 614.47H133.22Z" fill="#ff0000"/>
<path d="M142.04 610.17L144.54 614.97H139.54Z" fill="#ff0000"/>
<path d="M139.05 613.83L141.55 618.63H136.55Z" fill="#ff0000"/>
<path d="M139.05 626.65L141.55 631.45H136.55Z" fill="#ff0000"/>
<path d="M139.05 638.46L141.55 643.26H136.55Z" fill="#ff0000"/>
<path d="M150.69 593.86L153.19 598.66H148.19Z" fill="#ff0000"/>
<path d="M149.2 601.35L151.7 606.15H146.7Z" fill="#ff0000"/>
<path d="M152.52 599.69L155.02 604.49H150.02Z" fill="#ff0000"/>
<path d="M147.87 604.18L150.37 608.98H145.37Z" fill="#ff0000"/>
<path d="M153.69 604.18L156.19 608.98H151.19Z" fill="#ff0000"/>
<path d="M150.69 605.01L153.19 609.81H148.19Z" fill="#ff0000"/>
<path d="M150.69 614.33L153.19 619.13H148.19Z" fill="#ff0000"/>
<path d="M165.84 599.69L168.34 604.49H163.34Z" fill="#ff0000"/>
<path d="M162.51 605.51L165.01 610.31H160.01Z" fill="#ff0000"/>
<path d="M159.51 609.17L162.01 613.97H157.01Z" fill="#ff0000"/>
<path d="M165.84 609.17L168.34 613.97H163.34Z" fill="#ff0000"/>
<path d="M162.51 612.17L165.01 616.97H160.01Z" fill="#ff0000"/>
<path d="M162.51 625.15L165.01 629.95H160.01Z" fill="#ff0000"/>
</g>
<g id="d2" class="p">
<path d="M222.1 560.2V666.8H328.3" fill="none" stroke="#000" stroke-width="1.15"/>
<text x="213.75" y="563.2" text-anchor="end" font-size="7.55">100</text>
<text x="213.75" y="598.57" text-anchor="end" font-size="7.55">10</text>
<text x="213.75" y="633.93" text-anchor="end" font-size="7.55">1</text>
<text x="213.75" y="669.3" text-anchor="end" font-size="7.55">0.1</text>
<path d="M217.5 560.7H222.1M217.5 596.07H222.1M217.5 631.43H222.1M217.5 666.8H222.1M227.7 666.8V671.4M239.5 666.8V671.4M251.3 666.8V671.4M263.1 666.8V671.4M274.9 666.8V671.4M286.7 666.8V671.4M298.5 666.8V671.4M310.3 666.8V671.4M322.1 666.8V671.4" fill="none" stroke="#000" stroke-width="1.15"/>
<text transform="translate(227 683.6) rotate(-45)" text-anchor="end" font-size="7.9">media</text>
<text transform="translate(239.8 682.8) rotate(-45)" text-anchor="end" font-size="7.9">IC</text>
<text transform="translate(250.6 683.6) rotate(-45)" text-anchor="end" font-size="7.9">anti-IgM</text>
<text transform="translate(262.4 683.6) rotate(-45)" text-anchor="end" font-size="7.9">media</text>
<text transform="translate(275.2 682.8) rotate(-45)" text-anchor="end" font-size="7.9">IC</text>
<text transform="translate(286 683.6) rotate(-45)" text-anchor="end" font-size="7.9">anti-IgM</text>
<text transform="translate(297.8 683.6) rotate(-45)" text-anchor="end" font-size="7.9">media</text>
<text transform="translate(310.6 682.8) rotate(-45)" text-anchor="end" font-size="7.9">IC</text>
<text transform="translate(321.4 683.6) rotate(-45)" text-anchor="end" font-size="7.9">anti-IgM</text>
<text transform="translate(194.35 661.8) rotate(-90)" font-size="9.8" textLength="102.9" lengthAdjust="spacingAndGlyphs" xml:space="preserve">IFNβ  [pg/ml fold change]</text>
<path d="M229.3 571.9V566.6H265.1V571.9" fill="none" stroke="#000" stroke-width="1.0"/>
<text x="251.3" y="561.6" class="n" text-anchor="middle" font-size="12">ns</text>
<path d="M235.97 612.9H243.79" stroke="#000000" stroke-width="1.0"/>
<path d="M247.62 606.25H255.44" stroke="#000000" stroke-width="1.0"/>
<path d="M270.92 616.56H279.08" stroke="#00b400" stroke-width="1.0"/>
<path d="M294.55 634.87H302.87" stroke="#ff0000" stroke-width="1.0"/>
<path d="M306.2 604.58H314.52" stroke="#ff0000" stroke-width="1.0"/>
<path d="M317.85 603.25H326.17" stroke="#ff0000" stroke-width="1.0"/>
<circle cx="224.32" cy="631.21" r="2.38" fill="#000000"/>
<circle cx="225.32" cy="631.21" r="2.38" fill="#000000"/>
<circle cx="226.32" cy="631.21" r="2.38" fill="#000000"/>
<circle cx="227.32" cy="631.21" r="2.38" fill="#000000"/>
<circle cx="228.32" cy="631.21" r="2.38" fill="#000000"/>
<circle cx="229.32" cy="631.21" r="2.38" fill="#000000"/>
<circle cx="230.65" cy="631.21" r="2.38" fill="#000000"/>
<circle cx="239.63" cy="587.11" r="2.38" fill="#000000"/>
<circle cx="239.63" cy="595.93" r="2.38" fill="#000000"/>
<circle cx="239.63" cy="604.58" r="2.38" fill="#000000"/>
<circle cx="239.63" cy="612.07" r="2.38" fill="#000000"/>
<circle cx="235.97" cy="614.23" r="2.38" fill="#000000"/>
<circle cx="239.63" cy="619.23" r="2.38" fill="#000000"/>
<circle cx="239.63" cy="634.54" r="2.38" fill="#000000"/>
<circle cx="251.28" cy="580.12" r="2.38" fill="#000000"/>
<circle cx="251.28" cy="591.27" r="2.38" fill="#000000"/>
<circle cx="251.28" cy="600.42" r="2.38" fill="#000000"/>
<circle cx="254.28" cy="605.91" r="2.38" fill="#000000"/>
<circle cx="248.29" cy="608.24" r="2.38" fill="#000000"/>
<circle cx="251.28" cy="610.91" r="2.38" fill="#000000"/>
<circle cx="251.28" cy="623.39" r="2.38" fill="#000000"/>
<rect x="260.68" y="621.47" width="4.5" height="4.5" fill="#00b400"/>
<rect x="257.69" y="625.3" width="4.5" height="4.5" fill="#00b400"/>
<rect x="263.68" y="626.46" width="4.5" height="4.5" fill="#00b400"/>
<rect x="260.68" y="628.46" width="4.5" height="4.5" fill="#00b400"/>
<rect x="260.68" y="638.11" width="4.5" height="4.5" fill="#00b400"/>
<rect x="260.68" y="649.26" width="4.5" height="4.5" fill="#00b400"/>
<rect x="261.02" y="623.97" width="4.5" height="4.5" fill="#00b400"/>
<rect x="272.66" y="593.18" width="4.5" height="4.5" fill="#00b400"/>
<rect x="275.66" y="601.5" width="4.5" height="4.5" fill="#00b400"/>
<rect x="272.66" y="607.82" width="4.5" height="4.5" fill="#00b400"/>
<rect x="269.34" y="613.98" width="4.5" height="4.5" fill="#00b400"/>
<rect x="272.66" y="615.65" width="4.5" height="4.5" fill="#00b400"/>
<rect x="275.66" y="628.96" width="4.5" height="4.5" fill="#00b400"/>
<rect x="272.66" y="632.79" width="4.5" height="4.5" fill="#00b400"/>
<rect x="284.31" y="579.87" width="4.5" height="4.5" fill="#00b400"/>
<rect x="284.31" y="592.35" width="4.5" height="4.5" fill="#00b400"/>
<rect x="282.65" y="599" width="4.5" height="4.5" fill="#00b400"/>
<rect x="287.64" y="600.33" width="4.5" height="4.5" fill="#00b400"/>
<rect x="280.99" y="603.5" width="4.5" height="4.5" fill="#00b400"/>
<rect x="284.31" y="604.83" width="4.5" height="4.5" fill="#00b400"/>
<rect x="284.31" y="620.97" width="4.5" height="4.5" fill="#00b400"/>
<path d="M298.71 600.18L301.21 604.98H296.21Z" fill="#ff0000"/>
<path d="M298.71 612.17L301.21 616.97H296.21Z" fill="#ff0000"/>
<path d="M301.71 631.64L304.21 636.44H299.21Z" fill="#ff0000"/>
<path d="M298.38 632.14L300.88 636.94H295.88Z" fill="#ff0000"/>
<path d="M295.38 635.96L297.88 640.76H292.88Z" fill="#ff0000"/>
<path d="M298.71 640.79L301.21 645.59H296.21Z" fill="#ff0000"/>
<path d="M298.71 657.1L301.21 661.9H296.21Z" fill="#ff0000"/>
<path d="M310.36 590.03L312.86 594.83H307.86Z" fill="#ff0000"/>
<path d="M307.03 596.86L309.53 601.66H304.53Z" fill="#ff0000"/>
<path d="M313.36 599.19L315.86 603.99H310.86Z" fill="#ff0000"/>
<path d="M310.03 602.68L312.53 607.48H307.53Z" fill="#ff0000"/>
<path d="M307.03 610.84L309.53 615.64H304.53Z" fill="#ff0000"/>
<path d="M310.36 612.67L312.86 617.47H307.86Z" fill="#ff0000"/>
<path d="M310.36 636.8L312.86 641.6H307.86Z" fill="#ff0000"/>
<path d="M322.01 579.38L324.51 584.18H319.51Z" fill="#ff0000"/>
<path d="M322.01 589.7L324.51 594.5H319.51Z" fill="#ff0000"/>
<path d="M325.34 599.35L327.84 604.15H322.84Z" fill="#ff0000"/>
<path d="M322.01 600.85L324.51 605.65H319.51Z" fill="#ff0000"/>
<path d="M318.68 603.51L321.18 608.31H316.18Z" fill="#ff0000"/>
<path d="M322.01 609.67L324.51 614.47H319.51Z" fill="#ff0000"/>
<path d="M322.01 624.65L324.51 629.45H319.51Z" fill="#ff0000"/>
</g>
<g id="d3" class="p">
<path d="M386.9 561.7V667.1H492.3" fill="none" stroke="#000" stroke-width="1.15"/>
<text x="380.35" y="564.7" text-anchor="end" font-size="7.55">10000</text>
<text x="382.45" y="582.18" text-anchor="end" font-size="7.55">1000</text>
<text x="382.45" y="599.67" text-anchor="end" font-size="7.55">100</text>
<text x="382.45" y="617.15" text-anchor="end" font-size="7.55">10</text>
<text x="382.45" y="634.63" text-anchor="end" font-size="7.55">1</text>
<text x="382.45" y="652.12" text-anchor="end" font-size="7.55">0.1</text>
<text x="382.45" y="669.6" text-anchor="end" font-size="7.55">0.01</text>
<path d="M382.3 562.2H386.9M382.3 579.68H386.9M382.3 597.17H386.9M382.3 614.65H386.9M382.3 632.13H386.9M382.3 649.62H386.9M382.3 667.1H386.9M392.4 667.1V671.7M404.14 667.1V671.7M415.88 667.1V671.7M427.62 667.1V671.7M439.36 667.1V671.7M451.1 667.1V671.7M462.84 667.1V671.7M474.58 667.1V671.7M486.32 667.1V671.7" fill="none" stroke="#000" stroke-width="1.15"/>
<text transform="translate(391.7 683.9) rotate(-45)" text-anchor="end" font-size="7.9">media</text>
<text transform="translate(404.44 683.1) rotate(-45)" text-anchor="end" font-size="7.9">IC</text>
<text transform="translate(415.18 683.9) rotate(-45)" text-anchor="end" font-size="7.9">anti-IgM</text>
<text transform="translate(426.92 683.9) rotate(-45)" text-anchor="end" font-size="7.9">media</text>
<text transform="translate(439.66 683.1) rotate(-45)" text-anchor="end" font-size="7.9">IC</text>
<text transform="translate(450.4 683.9) rotate(-45)" text-anchor="end" font-size="7.9">anti-IgM</text>
<text transform="translate(462.14 683.9) rotate(-45)" text-anchor="end" font-size="7.9">media</text>
<text transform="translate(474.88 683.1) rotate(-45)" text-anchor="end" font-size="7.9">IC</text>
<text transform="translate(485.62 683.9) rotate(-45)" text-anchor="end" font-size="7.9">anti-IgM</text>
<text transform="translate(356.85 661.6) rotate(-90)" font-size="9.8" textLength="101.8" lengthAdjust="spacingAndGlyphs" xml:space="preserve">IFNγ  [pg/ml fold change]</text>
<path d="M391.7 569.9V564.6H427.4V569.9" fill="none" stroke="#000" stroke-width="1.0"/>
<text x="411.3" y="559.6" class="n" text-anchor="middle" font-size="12">ns</text>
<path d="M400.14 609.57H407.96" stroke="#000000" stroke-width="1.0"/>
<path d="M435.42 603.75H443.74" stroke="#00b400" stroke-width="1.0"/>
<path d="M458.72 633.7H467.04" stroke="#ff0000" stroke-width="1.0"/>
<path d="M470.7 606.25H479.02" stroke="#ff0000" stroke-width="1.0"/>
<path d="M482.35 630.71H490.67" stroke="#ff0000" stroke-width="1.0"/>
<circle cx="389.32" cy="632.04" r="2.38" fill="#000000"/>
<circle cx="390.32" cy="632.04" r="2.38" fill="#000000"/>
<circle cx="391.32" cy="632.04" r="2.38" fill="#000000"/>
<circle cx="392.32" cy="632.04" r="2.38" fill="#000000"/>
<circle cx="393.32" cy="632.04" r="2.38" fill="#000000"/>
<circle cx="394.32" cy="632.04" r="2.38" fill="#000000"/>
<circle cx="395.65" cy="632.04" r="2.38" fill="#000000"/>
<circle cx="404.13" cy="577.46" r="2.38" fill="#000000"/>
<circle cx="404.13" cy="584.61" r="2.38" fill="#000000"/>
<circle cx="404.13" cy="601.59" r="2.38" fill="#000000"/>
<circle cx="407.46" cy="609.24" r="2.38" fill="#000000"/>
<circle cx="400.81" cy="612.57" r="2.38" fill="#000000"/>
<circle cx="404.13" cy="612.9" r="2.38" fill="#000000"/>
<circle cx="404.13" cy="629.05" r="2.38" fill="#000000"/>
<circle cx="419.11" cy="616.73" r="2.38" fill="#000000"/>
<circle cx="412.62" cy="619.23" r="2.38" fill="#000000"/>
<circle cx="415.78" cy="622.89" r="2.38" fill="#000000"/>
<circle cx="412.62" cy="629.05" r="2.38" fill="#000000"/>
<circle cx="417.61" cy="628.38" r="2.38" fill="#000000"/>
<circle cx="415.78" cy="631.71" r="2.38" fill="#000000"/>
<circle cx="418.78" cy="630.71" r="2.38" fill="#000000"/>
<rect x="424.02" y="629.46" width="4.5" height="4.5" fill="#00b400"/>
<rect x="422.02" y="631.95" width="4.5" height="4.5" fill="#00b400"/>
<rect x="425.35" y="632.29" width="4.5" height="4.5" fill="#00b400"/>
<rect x="428.68" y="631.79" width="4.5" height="4.5" fill="#00b400"/>
<rect x="429.01" y="638.94" width="4.5" height="4.5" fill="#00b400"/>
<rect x="425.35" y="640.94" width="4.5" height="4.5" fill="#00b400"/>
<rect x="437" y="572.71" width="4.5" height="4.5" fill="#00b400"/>
<rect x="437" y="584.86" width="4.5" height="4.5" fill="#00b400"/>
<rect x="440.33" y="599.5" width="4.5" height="4.5" fill="#00b400"/>
<rect x="437" y="601.17" width="4.5" height="4.5" fill="#00b400"/>
<rect x="434" y="610.32" width="4.5" height="4.5" fill="#00b400"/>
<rect x="437" y="611.98" width="4.5" height="4.5" fill="#00b400"/>
<rect x="437" y="627.63" width="4.5" height="4.5" fill="#00b400"/>
<rect x="448.65" y="610.99" width="4.5" height="4.5" fill="#00b400"/>
<rect x="445.32" y="628.13" width="4.5" height="4.5" fill="#00b400"/>
<rect x="448.65" y="626.96" width="4.5" height="4.5" fill="#00b400"/>
<rect x="451.48" y="627.63" width="4.5" height="4.5" fill="#00b400"/>
<rect x="452.31" y="629.29" width="4.5" height="4.5" fill="#00b400"/>
<rect x="448.65" y="633.62" width="4.5" height="4.5" fill="#00b400"/>
<rect x="448.65" y="629.79" width="4.5" height="4.5" fill="#00b400"/>
<path d="M465.71 600.52L468.21 605.32H463.21Z" fill="#ff0000"/>
<path d="M462.55 601.85L465.05 606.65H460.05Z" fill="#ff0000"/>
<path d="M459.55 630.81L462.05 635.61H457.05Z" fill="#ff0000"/>
<path d="M465.71 630.47L468.21 635.27H463.21Z" fill="#ff0000"/>
<path d="M462.55 632.97L465.05 637.77H460.05Z" fill="#ff0000"/>
<path d="M462.55 662.09L465.05 666.89H460.05Z" fill="#ff0000"/>
<path d="M477.52 571.73L480.02 576.53H475.02Z" fill="#ff0000"/>
<path d="M474.53 573.89L477.03 578.69H472.03Z" fill="#ff0000"/>
<path d="M474.53 580.55L477.03 585.35H472.03Z" fill="#ff0000"/>
<path d="M474.53 603.85L477.03 608.65H472.03Z" fill="#ff0000"/>
<path d="M471.2 612.67L473.7 617.47H468.7Z" fill="#ff0000"/>
<path d="M474.53 613.5L477.03 618.3H472.03Z" fill="#ff0000"/>
<path d="M474.53 628.81L477.03 633.61H472.03Z" fill="#ff0000"/>
<path d="M489.17 609.34L491.67 614.14H486.67Z" fill="#ff0000"/>
<path d="M486.18 611.83L488.68 616.63H483.68Z" fill="#ff0000"/>
<path d="M482.85 622.98L485.35 627.78H480.35Z" fill="#ff0000"/>
<path d="M486.18 628.31L488.68 633.11H483.68Z" fill="#ff0000"/>
<path d="M482.85 630.47L485.35 635.27H480.35Z" fill="#ff0000"/>
<path d="M489.17 632.47L491.67 637.27H486.67Z" fill="#ff0000"/>
<path d="M486.18 636.3L488.68 641.1H483.68Z" fill="#ff0000"/>
</g>
<g id="d4" class="p">
<path d="M553.8 560.3V666.9H659.5" fill="none" stroke="#000" stroke-width="1.15"/>
<text x="546.75" y="563.3" text-anchor="end" font-size="7.55">1000</text>
<text x="546.75" y="589.82" text-anchor="end" font-size="7.55">100</text>
<text x="546.75" y="616.35" text-anchor="end" font-size="7.55">10</text>
<text x="546.75" y="642.88" text-anchor="end" font-size="7.55">1</text>
<text x="546.75" y="669.4" text-anchor="end" font-size="7.55">0.1</text>
<path d="M549.2 560.8H553.8M549.2 587.32H553.8M549.2 613.85H553.8M549.2 640.38H553.8M549.2 666.9H553.8M558.7 666.9V671.5M570.52 666.9V671.5M582.34 666.9V671.5M594.16 666.9V671.5M605.98 666.9V671.5M617.8 666.9V671.5M629.62 666.9V671.5M641.44 666.9V671.5M653.26 666.9V671.5" fill="none" stroke="#000" stroke-width="1.15"/>
<text transform="translate(558 683.7) rotate(-45)" text-anchor="end" font-size="7.9">media</text>
<text transform="translate(570.82 682.9) rotate(-45)" text-anchor="end" font-size="7.9">IC</text>
<text transform="translate(581.64 683.7) rotate(-45)" text-anchor="end" font-size="7.9">anti-IgM</text>
<text transform="translate(593.46 683.7) rotate(-45)" text-anchor="end" font-size="7.9">media</text>
<text transform="translate(606.28 682.9) rotate(-45)" text-anchor="end" font-size="7.9">IC</text>
<text transform="translate(617.1 683.7) rotate(-45)" text-anchor="end" font-size="7.9">anti-IgM</text>
<text transform="translate(628.92 683.7) rotate(-45)" text-anchor="end" font-size="7.9">media</text>
<text transform="translate(641.74 682.9) rotate(-45)" text-anchor="end" font-size="7.9">IC</text>
<text transform="translate(652.56 683.7) rotate(-45)" text-anchor="end" font-size="7.9">anti-IgM</text>
<text transform="translate(525.95 666) rotate(-90)" font-size="9.8" textLength="117" lengthAdjust="spacingAndGlyphs" xml:space="preserve">GM-CSF [pg/ml fold change]</text>
<path d="M561.2 575.3V570H596.9V575.3" fill="none" stroke="#000" stroke-width="1.0"/>
<text x="581.3" y="565.5" class="n" text-anchor="middle" font-size="12">ns</text>
<path d="M578.62 625.05H586.61" stroke="#000000" stroke-width="1.0"/>
<path d="M602.09 614.07H610.24" stroke="#00b400" stroke-width="1.0"/>
<path d="M614.07 625.88H622.06" stroke="#00b400" stroke-width="1.0"/>
<path d="M626.05 635.37H634.04" stroke="#ff0000" stroke-width="1.0"/>
<path d="M649.35 626.22H657.34" stroke="#ff0000" stroke-width="1.0"/>
<circle cx="555.99" cy="640.03" r="2.38" fill="#000000"/>
<circle cx="556.99" cy="640.03" r="2.38" fill="#000000"/>
<circle cx="557.99" cy="640.03" r="2.38" fill="#000000"/>
<circle cx="558.99" cy="640.03" r="2.38" fill="#000000"/>
<circle cx="559.99" cy="640.03" r="2.38" fill="#000000"/>
<circle cx="560.98" cy="640.03" r="2.38" fill="#000000"/>
<circle cx="562.31" cy="640.03" r="2.38" fill="#000000"/>
<circle cx="570.47" cy="582.45" r="2.38" fill="#000000"/>
<circle cx="570.47" cy="597.59" r="2.38" fill="#000000"/>
<circle cx="567.97" cy="614.57" r="2.38" fill="#000000"/>
<circle cx="573.63" cy="614.9" r="2.38" fill="#000000"/>
<circle cx="570.47" cy="618.73" r="2.38" fill="#000000"/>
<circle cx="570.47" cy="641.53" r="2.38" fill="#000000"/>
<circle cx="569.14" cy="613.73" r="2.38" fill="#000000"/>
<circle cx="579.46" cy="613.73" r="2.38" fill="#000000"/>
<circle cx="582.78" cy="616.56" r="2.38" fill="#000000"/>
<circle cx="585.78" cy="620.39" r="2.38" fill="#000000"/>
<circle cx="582.45" cy="625.05" r="2.38" fill="#000000"/>
<circle cx="579.46" cy="631.21" r="2.38" fill="#000000"/>
<circle cx="582.78" cy="633.7" r="2.38" fill="#000000"/>
<circle cx="582.78" cy="644.85" r="2.38" fill="#000000"/>
<rect x="595.51" y="633.95" width="4.5" height="4.5" fill="#00b400"/>
<rect x="589.35" y="636.95" width="4.5" height="4.5" fill="#00b400"/>
<rect x="592.35" y="637.61" width="4.5" height="4.5" fill="#00b400"/>
<rect x="592.68" y="640.94" width="4.5" height="4.5" fill="#00b400"/>
<rect x="589.35" y="645.1" width="4.5" height="4.5" fill="#00b400"/>
<rect x="592.68" y="645.6" width="4.5" height="4.5" fill="#00b400"/>
<rect x="595.51" y="645.27" width="4.5" height="4.5" fill="#00b400"/>
<rect x="603.83" y="580.2" width="4.5" height="4.5" fill="#00b400"/>
<rect x="603.83" y="596.01" width="4.5" height="4.5" fill="#00b400"/>
<rect x="603.83" y="607.66" width="4.5" height="4.5" fill="#00b400"/>
<rect x="607.16" y="611.82" width="4.5" height="4.5" fill="#00b400"/>
<rect x="601" y="614.81" width="4.5" height="4.5" fill="#00b400"/>
<rect x="603.83" y="617.31" width="4.5" height="4.5" fill="#00b400"/>
<rect x="603.83" y="640.61" width="4.5" height="4.5" fill="#00b400"/>
<rect x="615.65" y="604.83" width="4.5" height="4.5" fill="#00b400"/>
<rect x="618.98" y="612.82" width="4.5" height="4.5" fill="#00b400"/>
<rect x="615.65" y="616.48" width="4.5" height="4.5" fill="#00b400"/>
<rect x="615.65" y="623.63" width="4.5" height="4.5" fill="#00b400"/>
<rect x="612.65" y="628.63" width="4.5" height="4.5" fill="#00b400"/>
<rect x="618.98" y="630.29" width="4.5" height="4.5" fill="#00b400"/>
<rect x="615.65" y="634.28" width="4.5" height="4.5" fill="#00b400"/>
<path d="M632.71 592.2L635.21 597H630.21Z" fill="#ff0000"/>
<path d="M629.88 593.86L632.38 598.66H627.38Z" fill="#ff0000"/>
<path d="M626.55 628.81L629.05 633.61H624.05Z" fill="#ff0000"/>
<path d="M629.88 633.3L632.38 638.1H627.38Z" fill="#ff0000"/>
<path d="M626.55 636.8L629.05 641.6H624.05Z" fill="#ff0000"/>
<path d="M632.71 639.63L635.21 644.43H630.21Z" fill="#ff0000"/>
<path d="M629.88 641.79L632.38 646.59H627.38Z" fill="#ff0000"/>
<path d="M638.53 575.06L641.03 579.86H636.03Z" fill="#ff0000"/>
<path d="M641.53 575.56L644.03 580.36H639.03Z" fill="#ff0000"/>
<path d="M641.53 596.02L644.03 600.82H639.03Z" fill="#ff0000"/>
<path d="M638.2 611L640.7 615.8H635.7Z" fill="#ff0000"/>
<path d="M641.53 611.33L644.03 616.13H639.03Z" fill="#ff0000"/>
<path d="M644.86 611L647.36 615.8H642.36Z" fill="#ff0000"/>
<path d="M641.53 640.79L644.03 645.59H639.03Z" fill="#ff0000"/>
<path d="M656.17 600.18L658.67 604.98H653.67Z" fill="#ff0000"/>
<path d="M653.18 601.02L655.68 605.82H650.68Z" fill="#ff0000"/>
<path d="M649.85 619.66L652.35 624.46H647.35Z" fill="#ff0000"/>
<path d="M653.18 623.82L655.68 628.62H650.68Z" fill="#ff0000"/>
<path d="M649.85 625.48L652.35 630.28H647.35Z" fill="#ff0000"/>
<path d="M656.17 630.47L658.67 635.27H653.67Z" fill="#ff0000"/>
<path d="M653.18 631.3L655.68 636.1H650.68Z" fill="#ff0000"/>
</g>
<g id="e1" class="p">
<path d="M75.8 746.5V853.5H183.6" fill="none" stroke="#000" stroke-width="1.15"/>
<text x="68.85" y="749.5" text-anchor="end" font-size="7.55">10000</text>
<text x="70.95" y="770.8" text-anchor="end" font-size="7.55">1000</text>
<text x="70.95" y="792.1" text-anchor="end" font-size="7.55">100</text>
<text x="70.95" y="813.4" text-anchor="end" font-size="7.55">10</text>
<text x="70.95" y="834.7" text-anchor="end" font-size="7.55">1</text>
<text x="70.95" y="856" text-anchor="end" font-size="7.55">0.1</text>
<path d="M71.2 747H75.8M71.2 768.3H75.8M71.2 789.6H75.8M71.2 810.9H75.8M71.2 832.2H75.8M71.2 853.5H75.8M81.2 853.5V858.1M93.17 853.5V858.1M105.14 853.5V858.1M117.11 853.5V858.1M129.08 853.5V858.1M141.05 853.5V858.1M153.02 853.5V858.1M164.99 853.5V858.1M176.96 853.5V858.1" fill="none" stroke="#000" stroke-width="1.15"/>
<text transform="translate(80.5 870.3) rotate(-45)" text-anchor="end" font-size="7.9">media</text>
<text transform="translate(93.47 869.5) rotate(-45)" text-anchor="end" font-size="7.9">IC</text>
<text transform="translate(104.44 870.3) rotate(-45)" text-anchor="end" font-size="7.9">anti-IgM</text>
<text transform="translate(116.41 870.3) rotate(-45)" text-anchor="end" font-size="7.9">media</text>
<text transform="translate(129.38 869.5) rotate(-45)" text-anchor="end" font-size="7.9">IC</text>
<text transform="translate(140.35 870.3) rotate(-45)" text-anchor="end" font-size="7.9">anti-IgM</text>
<text transform="translate(152.32 870.3) rotate(-45)" text-anchor="end" font-size="7.9">media</text>
<text transform="translate(165.29 869.5) rotate(-45)" text-anchor="end" font-size="7.9">IC</text>
<text transform="translate(176.26 870.3) rotate(-45)" text-anchor="end" font-size="7.9">anti-IgM</text>
<text transform="translate(47.35 843.9) rotate(-90)" font-size="9.8" textLength="97.15" lengthAdjust="spacingAndGlyphs" xml:space="preserve">IL-6 [pg/ml fold change]</text>
<path d="M83.3 750.8V745.5H119.4V750.8" fill="none" stroke="#000" stroke-width="1.0"/>
<text x="102" y="740.5" class="n" text-anchor="middle" font-size="12">ns</text>
<path d="M89.81 826.53H97.46" stroke="#000000" stroke-width="1.0"/>
<path d="M101.62 808.22H109.44" stroke="#000000" stroke-width="1.0"/>
<path d="M137.24 805.73H145.22" stroke="#00b400" stroke-width="1.0"/>
<path d="M161.03 826.2H169.02" stroke="#ff0000" stroke-width="1.0"/>
<path d="M173.02 806.56H181" stroke="#ff0000" stroke-width="1.0"/>
<circle cx="78.32" cy="832.35" r="2.38" fill="#000000"/>
<circle cx="79.32" cy="832.35" r="2.38" fill="#000000"/>
<circle cx="80.32" cy="832.35" r="2.38" fill="#000000"/>
<circle cx="81.32" cy="832.35" r="2.38" fill="#000000"/>
<circle cx="82.32" cy="832.35" r="2.38" fill="#000000"/>
<circle cx="83.32" cy="832.35" r="2.38" fill="#000000"/>
<circle cx="84.65" cy="832.35" r="2.38" fill="#000000"/>
<circle cx="96.96" cy="818.21" r="2.38" fill="#000000"/>
<circle cx="93.63" cy="820.21" r="2.38" fill="#000000"/>
<circle cx="90.31" cy="826.2" r="2.38" fill="#000000"/>
<circle cx="93.63" cy="827.36" r="2.38" fill="#000000"/>
<circle cx="96.96" cy="832.02" r="2.38" fill="#000000"/>
<circle cx="93.63" cy="834.85" r="2.38" fill="#000000"/>
<circle cx="105.45" cy="752.97" r="2.38" fill="#000000"/>
<circle cx="105.45" cy="775.44" r="2.38" fill="#000000"/>
<circle cx="105.45" cy="802.9" r="2.38" fill="#000000"/>
<circle cx="102.29" cy="822.87" r="2.38" fill="#000000"/>
<circle cx="105.45" cy="826.03" r="2.38" fill="#000000"/>
<circle cx="105.45" cy="835.18" r="2.38" fill="#000000"/>
<rect x="115.02" y="789.83" width="4.5" height="4.5" fill="#00b400"/>
<rect x="115.02" y="824.28" width="4.5" height="4.5" fill="#00b400"/>
<rect x="117.18" y="827.94" width="4.5" height="4.5" fill="#00b400"/>
<rect x="111.69" y="830.94" width="4.5" height="4.5" fill="#00b400"/>
<rect x="114.68" y="831.77" width="4.5" height="4.5" fill="#00b400"/>
<rect x="118.01" y="831.77" width="4.5" height="4.5" fill="#00b400"/>
<rect x="115.02" y="833.43" width="4.5" height="4.5" fill="#00b400"/>
<rect x="129.99" y="816.79" width="4.5" height="4.5" fill="#00b400"/>
<rect x="123.84" y="818.45" width="4.5" height="4.5" fill="#00b400"/>
<rect x="126.66" y="819.62" width="4.5" height="4.5" fill="#00b400"/>
<rect x="129.99" y="822.62" width="4.5" height="4.5" fill="#00b400"/>
<rect x="126.83" y="826.28" width="4.5" height="4.5" fill="#00b400"/>
<rect x="139.15" y="753.22" width="4.5" height="4.5" fill="#00b400"/>
<rect x="139.15" y="773.52" width="4.5" height="4.5" fill="#00b400"/>
<rect x="139.15" y="798.15" width="4.5" height="4.5" fill="#00b400"/>
<rect x="139.15" y="815.13" width="4.5" height="4.5" fill="#00b400"/>
<rect x="139.15" y="823.45" width="4.5" height="4.5" fill="#00b400"/>
<rect x="139.15" y="830.1" width="4.5" height="4.5" fill="#00b400"/>
<path d="M153.05 804.99L155.55 809.79H150.55Z" fill="#ff0000"/>
<path d="M153.05 818.64L155.55 823.44H150.55Z" fill="#ff0000"/>
<path d="M153.05 827.79L155.55 832.59H150.55Z" fill="#ff0000"/>
<path d="M149.72 830.45L152.22 835.25H147.22Z" fill="#ff0000"/>
<path d="M156.37 831.95L158.87 836.75H153.87Z" fill="#ff0000"/>
<path d="M153.05 834.45L155.55 839.25H150.55Z" fill="#ff0000"/>
<path d="M161.87 817.97L164.37 822.77H159.37Z" fill="#ff0000"/>
<path d="M165.19 818.3L167.69 823.1H162.69Z" fill="#ff0000"/>
<path d="M161.87 823.8L164.37 828.6H159.37Z" fill="#ff0000"/>
<path d="M166.86 823.8L169.36 828.6H164.36Z" fill="#ff0000"/>
<path d="M165.19 828.79L167.69 833.59H162.69Z" fill="#ff0000"/>
<path d="M168.52 828.79L171.02 833.59H166.02Z" fill="#ff0000"/>
<path d="M176.84 756.4L179.34 761.2H174.34Z" fill="#ff0000"/>
<path d="M176.84 771.71L179.34 776.51H174.34Z" fill="#ff0000"/>
<path d="M176.84 799.67L179.34 804.47H174.34Z" fill="#ff0000"/>
<path d="M176.84 813.31L179.34 818.11H174.34Z" fill="#ff0000"/>
<path d="M176.84 822.8L179.34 827.6H174.34Z" fill="#ff0000"/>
<path d="M176.84 836.28L179.34 841.08H174.34Z" fill="#ff0000"/>
</g>
<g id="e2" class="p">
<path d="M233.7 747.7V854H340" fill="none" stroke="#000" stroke-width="1.15"/>
<text x="227.35" y="750.7" text-anchor="end" font-size="7.55">10000</text>
<text x="227.35" y="771.86" text-anchor="end" font-size="7.55">1000</text>
<text x="227.35" y="793.02" text-anchor="end" font-size="7.55">100</text>
<text x="227.35" y="814.18" text-anchor="end" font-size="7.55">10</text>
<text x="227.35" y="835.34" text-anchor="end" font-size="7.55">1</text>
<text x="227.35" y="856.5" text-anchor="end" font-size="7.55">0.1</text>
<path d="M229.1 748.2H233.7M229.1 769.36H233.7M229.1 790.52H233.7M229.1 811.68H233.7M229.1 832.84H233.7M229.1 854H233.7M238.4 854V858.6M250.33 854V858.6M262.26 854V858.6M274.19 854V858.6M286.12 854V858.6M298.05 854V858.6M309.98 854V858.6M321.91 854V858.6M333.84 854V858.6" fill="none" stroke="#000" stroke-width="1.15"/>
<text transform="translate(239.4 868.7) rotate(-45)" text-anchor="end" font-size="7.9">media</text>
<text transform="translate(252.33 867.9) rotate(-45)" text-anchor="end" font-size="7.9">IC</text>
<text transform="translate(263.26 868.7) rotate(-45)" text-anchor="end" font-size="7.9">anti-IgM</text>
<text transform="translate(275.19 868.7) rotate(-45)" text-anchor="end" font-size="7.9">media</text>
<text transform="translate(288.12 867.9) rotate(-45)" text-anchor="end" font-size="7.9">IC</text>
<text transform="translate(299.05 868.7) rotate(-45)" text-anchor="end" font-size="7.9">anti-IgM</text>
<text transform="translate(310.98 868.7) rotate(-45)" text-anchor="end" font-size="7.9">media</text>
<text transform="translate(323.91 867.9) rotate(-45)" text-anchor="end" font-size="7.9">IC</text>
<text transform="translate(334.84 868.7) rotate(-45)" text-anchor="end" font-size="7.9">anti-IgM</text>
<text transform="translate(205.75 851.9) rotate(-90)" font-size="9.8" textLength="107.6" lengthAdjust="spacingAndGlyphs" xml:space="preserve">TNFα  [pg/ml fold change]</text>
<path d="M239.2 780.6V775.3H274.4V780.6" fill="none" stroke="#000" stroke-width="1.0"/>
<text x="259.1" y="769.1" class="n" text-anchor="middle" font-size="12">ns</text>
<path d="M247.14 831.52H254.96" stroke="#000000" stroke-width="1.0"/>
<path d="M259.12 812.38H266.94" stroke="#000000" stroke-width="1.0"/>
<path d="M294.57 807.39H302.06" stroke="#00b400" stroke-width="1.0"/>
<path d="M318.2 830.19H326.19" stroke="#ff0000" stroke-width="1.0"/>
<path d="M329.85 811.55H337.84" stroke="#ff0000" stroke-width="1.0"/>
<circle cx="236.32" cy="832.85" r="2.38" fill="#000000"/>
<circle cx="237.32" cy="832.85" r="2.38" fill="#000000"/>
<circle cx="238.32" cy="832.85" r="2.38" fill="#000000"/>
<circle cx="239.32" cy="832.85" r="2.38" fill="#000000"/>
<circle cx="240.32" cy="832.85" r="2.38" fill="#000000"/>
<circle cx="241.32" cy="832.85" r="2.38" fill="#000000"/>
<circle cx="242.48" cy="832.85" r="2.38" fill="#000000"/>
<circle cx="250.8" cy="812.72" r="2.38" fill="#000000"/>
<circle cx="250.8" cy="829.86" r="2.38" fill="#000000"/>
<circle cx="254.13" cy="830.19" r="2.38" fill="#000000"/>
<circle cx="247.97" cy="831.52" r="2.38" fill="#000000"/>
<circle cx="250.8" cy="834.52" r="2.38" fill="#000000"/>
<circle cx="250.8" cy="846.83" r="2.38" fill="#000000"/>
<circle cx="262.78" cy="792.75" r="2.38" fill="#000000"/>
<circle cx="262.78" cy="804.56" r="2.38" fill="#000000"/>
<circle cx="259.46" cy="811.22" r="2.38" fill="#000000"/>
<circle cx="262.78" cy="814.38" r="2.38" fill="#000000"/>
<circle cx="266.11" cy="834.35" r="2.38" fill="#000000"/>
<circle cx="262.78" cy="836.02" r="2.38" fill="#000000"/>
<rect x="272.35" y="827.94" width="4.5" height="4.5" fill="#00b400"/>
<rect x="269.35" y="831.77" width="4.5" height="4.5" fill="#00b400"/>
<rect x="272.35" y="831.77" width="4.5" height="4.5" fill="#00b400"/>
<rect x="275.51" y="831.77" width="4.5" height="4.5" fill="#00b400"/>
<rect x="272.35" y="835.43" width="4.5" height="4.5" fill="#00b400"/>
<rect x="272.35" y="848.41" width="4.5" height="4.5" fill="#00b400"/>
<rect x="271.02" y="830.1" width="4.5" height="4.5" fill="#00b400"/>
<rect x="274.01" y="830.94" width="4.5" height="4.5" fill="#00b400"/>
<rect x="284.33" y="807.3" width="4.5" height="4.5" fill="#00b400"/>
<rect x="284.33" y="818.12" width="4.5" height="4.5" fill="#00b400"/>
<rect x="281" y="828.44" width="4.5" height="4.5" fill="#00b400"/>
<rect x="287.33" y="828.44" width="4.5" height="4.5" fill="#00b400"/>
<rect x="284.33" y="831.44" width="4.5" height="4.5" fill="#00b400"/>
<rect x="284.33" y="840.59" width="4.5" height="4.5" fill="#00b400"/>
<rect x="296.15" y="782.68" width="4.5" height="4.5" fill="#00b400"/>
<rect x="299.31" y="799.82" width="4.5" height="4.5" fill="#00b400"/>
<rect x="296.15" y="802.31" width="4.5" height="4.5" fill="#00b400"/>
<rect x="296.15" y="808.97" width="4.5" height="4.5" fill="#00b400"/>
<rect x="299.31" y="828.77" width="4.5" height="4.5" fill="#00b400"/>
<rect x="296.15" y="831.27" width="4.5" height="4.5" fill="#00b400"/>
<path d="M310.21 824.63L312.71 829.43H307.71Z" fill="#ff0000"/>
<path d="M307.72 830.79L310.22 835.59H305.22Z" fill="#ff0000"/>
<path d="M313.21 832.12L315.71 836.92H310.71Z" fill="#ff0000"/>
<path d="M306.55 832.78L309.05 837.58H304.05Z" fill="#ff0000"/>
<path d="M310.21 834.45L312.71 839.25H307.71Z" fill="#ff0000"/>
<path d="M311.54 832.45L314.04 837.25H309.04Z" fill="#ff0000"/>
<path d="M309.55 832.12L312.05 836.92H307.05Z" fill="#ff0000"/>
<path d="M325.19 814.98L327.69 819.78H322.69Z" fill="#ff0000"/>
<path d="M321.86 819.14L324.36 823.94H319.36Z" fill="#ff0000"/>
<path d="M321.86 826.63L324.36 831.43H319.36Z" fill="#ff0000"/>
<path d="M319.03 829.45L321.53 834.25H316.53Z" fill="#ff0000"/>
<path d="M325.19 832.12L327.69 836.92H322.69Z" fill="#ff0000"/>
<path d="M321.53 833.28L324.03 838.08H319.03Z" fill="#ff0000"/>
<path d="M333.68 782.53L336.18 787.33H331.18Z" fill="#ff0000"/>
<path d="M333.68 800.83L336.18 805.63H331.18Z" fill="#ff0000"/>
<path d="M330.68 807.15L333.18 811.95H328.18Z" fill="#ff0000"/>
<path d="M333.68 813.31L336.18 818.11H331.18Z" fill="#ff0000"/>
<path d="M337.01 830.29L339.51 835.09H334.51Z" fill="#ff0000"/>
<path d="M333.68 832.12L336.18 836.92H331.18Z" fill="#ff0000"/>
</g>
<g id="e3" class="p">
<path d="M395.1 747.7V854H501.3" fill="none" stroke="#000" stroke-width="1.15"/>
<text x="388.15" y="750.7" text-anchor="end" font-size="7.55">1000</text>
<text x="388.15" y="777.15" text-anchor="end" font-size="7.55">100</text>
<text x="388.15" y="803.6" text-anchor="end" font-size="7.55">10</text>
<text x="388.15" y="830.05" text-anchor="end" font-size="7.55">1</text>
<text x="388.15" y="856.5" text-anchor="end" font-size="7.55">0.1</text>
<path d="M390.5 748.2H395.1M390.5 774.65H395.1M390.5 801.1H395.1M390.5 827.55H395.1M390.5 854H395.1M400.4 854V858.6M412.26 854V858.6M424.12 854V858.6M435.98 854V858.6M447.84 854V858.6M459.7 854V858.6M471.56 854V858.6M483.42 854V858.6M495.28 854V858.6" fill="none" stroke="#000" stroke-width="1.15"/>
<text transform="translate(401.4 868.7) rotate(-45)" text-anchor="end" font-size="7.9">media</text>
<text transform="translate(414.26 867.9) rotate(-45)" text-anchor="end" font-size="7.9">IC</text>
<text transform="translate(425.12 868.7) rotate(-45)" text-anchor="end" font-size="7.9">anti-IgM</text>
<text transform="translate(436.98 868.7) rotate(-45)" text-anchor="end" font-size="7.9">media</text>
<text transform="translate(449.84 867.9) rotate(-45)" text-anchor="end" font-size="7.9">IC</text>
<text transform="translate(460.7 868.7) rotate(-45)" text-anchor="end" font-size="7.9">anti-IgM</text>
<text transform="translate(472.56 868.7) rotate(-45)" text-anchor="end" font-size="7.9">media</text>
<text transform="translate(485.42 867.9) rotate(-45)" text-anchor="end" font-size="7.9">IC</text>
<text transform="translate(496.28 868.7) rotate(-45)" text-anchor="end" font-size="7.9">anti-IgM</text>
<text transform="translate(366.95 846.3) rotate(-90)" font-size="9.8" textLength="101.7" lengthAdjust="spacingAndGlyphs" xml:space="preserve">IL-10 [pg/ml fold change]</text>
<path d="M402.3 756.4V751.1H437.9V756.4" fill="none" stroke="#000" stroke-width="1.0"/>
<text x="421" y="745.8" class="n" text-anchor="middle" font-size="12">ns</text>
<path d="M408.47 811.05H416.46" stroke="#000000" stroke-width="1.0"/>
<path d="M420.62 801.57H428.44" stroke="#000000" stroke-width="1.0"/>
<path d="M443.92 807.39H451.74" stroke="#00b400" stroke-width="1.0"/>
<path d="M455.9 797.91H463.72" stroke="#00b400" stroke-width="1.0"/>
<path d="M467.55 823.2H475.54" stroke="#ff0000" stroke-width="1.0"/>
<path d="M479.2 806.56H487.19" stroke="#ff0000" stroke-width="1.0"/>
<path d="M490.85 799.07H499.17" stroke="#ff0000" stroke-width="1.0"/>
<circle cx="397.32" cy="827.69" r="2.38" fill="#000000"/>
<circle cx="398.32" cy="827.69" r="2.38" fill="#000000"/>
<circle cx="399.32" cy="827.69" r="2.38" fill="#000000"/>
<circle cx="400.32" cy="827.69" r="2.38" fill="#000000"/>
<circle cx="401.32" cy="827.69" r="2.38" fill="#000000"/>
<circle cx="402.32" cy="827.69" r="2.38" fill="#000000"/>
<circle cx="403.65" cy="827.69" r="2.38" fill="#000000"/>
<circle cx="412.3" cy="779.93" r="2.38" fill="#000000"/>
<circle cx="412.3" cy="796.24" r="2.38" fill="#000000"/>
<circle cx="412.3" cy="807.72" r="2.38" fill="#000000"/>
<circle cx="412.3" cy="815.71" r="2.38" fill="#000000"/>
<circle cx="415.63" cy="821.54" r="2.38" fill="#000000"/>
<circle cx="412.3" cy="827.69" r="2.38" fill="#000000"/>
<circle cx="424.28" cy="760.3" r="2.38" fill="#000000"/>
<circle cx="424.28" cy="782.1" r="2.38" fill="#000000"/>
<circle cx="421.29" cy="801.57" r="2.38" fill="#000000"/>
<circle cx="424.28" cy="801.57" r="2.38" fill="#000000"/>
<circle cx="427.61" cy="817.38" r="2.38" fill="#000000"/>
<circle cx="424.28" cy="823.53" r="2.38" fill="#000000"/>
<rect x="433.68" y="791.83" width="4.5" height="4.5" fill="#00b400"/>
<rect x="433.68" y="818.95" width="4.5" height="4.5" fill="#00b400"/>
<rect x="430.69" y="823.45" width="4.5" height="4.5" fill="#00b400"/>
<rect x="436.68" y="823.45" width="4.5" height="4.5" fill="#00b400"/>
<rect x="433.68" y="827.94" width="4.5" height="4.5" fill="#00b400"/>
<rect x="433.68" y="821.78" width="4.5" height="4.5" fill="#00b400"/>
<rect x="435.35" y="820.95" width="4.5" height="4.5" fill="#00b400"/>
<rect x="445.66" y="777.18" width="4.5" height="4.5" fill="#00b400"/>
<rect x="445.66" y="793.49" width="4.5" height="4.5" fill="#00b400"/>
<rect x="445.66" y="800.65" width="4.5" height="4.5" fill="#00b400"/>
<rect x="442.34" y="813.46" width="4.5" height="4.5" fill="#00b400"/>
<rect x="445.66" y="815.13" width="4.5" height="4.5" fill="#00b400"/>
<rect x="445.66" y="823.95" width="4.5" height="4.5" fill="#00b400"/>
<rect x="457.31" y="757.71" width="4.5" height="4.5" fill="#00b400"/>
<rect x="457.31" y="779.68" width="4.5" height="4.5" fill="#00b400"/>
<rect x="454.15" y="793.99" width="4.5" height="4.5" fill="#00b400"/>
<rect x="457.31" y="796.49" width="4.5" height="4.5" fill="#00b400"/>
<rect x="460.64" y="813.96" width="4.5" height="4.5" fill="#00b400"/>
<rect x="457.31" y="820.45" width="4.5" height="4.5" fill="#00b400"/>
<path d="M471.38 804.16L473.88 808.96H468.88Z" fill="#ff0000"/>
<path d="M471.38 812.98L473.88 817.78H468.88Z" fill="#ff0000"/>
<path d="M474.71 818.8L477.21 823.6H472.21Z" fill="#ff0000"/>
<path d="M468.38 823.8L470.88 828.6H465.88Z" fill="#ff0000"/>
<path d="M471.38 823.8L473.88 828.6H468.88Z" fill="#ff0000"/>
<path d="M471.38 834.45L473.88 839.25H468.88Z" fill="#ff0000"/>
<path d="M483.36 781.36L485.86 786.16H480.86Z" fill="#ff0000"/>
<path d="M486.36 800.5L488.86 805.3H483.86Z" fill="#ff0000"/>
<path d="M483.36 802.5L485.86 807.3H480.86Z" fill="#ff0000"/>
<path d="M480.03 807.99L482.53 812.79H477.53Z" fill="#ff0000"/>
<path d="M483.36 812.98L485.86 817.78H480.86Z" fill="#ff0000"/>
<path d="M483.36 824.13L485.86 828.93H480.86Z" fill="#ff0000"/>
<path d="M495.01 755.9L497.51 760.7H492.51Z" fill="#ff0000"/>
<path d="M495.01 778.36L497.51 783.16H492.51Z" fill="#ff0000"/>
<path d="M498.34 795.84L500.84 800.64H495.84Z" fill="#ff0000"/>
<path d="M491.68 797.84L494.18 802.64H489.18Z" fill="#ff0000"/>
<path d="M495.01 799.5L497.51 804.3H492.51Z" fill="#ff0000"/>
<path d="M495.01 820.3L497.51 825.1H492.51Z" fill="#ff0000"/>
</g>
<g id="e4" class="p">
<path d="M556.6 740.7V847.4H663.3" fill="none" stroke="#000" stroke-width="1.15"/>
<text x="547.55" y="743.7" text-anchor="end" font-size="7.55">1000</text>
<text x="547.55" y="770.25" text-anchor="end" font-size="7.55">100</text>
<text x="547.55" y="796.8" text-anchor="end" font-size="7.55">10</text>
<text x="547.55" y="823.35" text-anchor="end" font-size="7.55">1</text>
<text x="547.55" y="849.9" text-anchor="end" font-size="7.55">0.1</text>
<path d="M552 741.2H556.6M552 767.75H556.6M552 794.3H556.6M552 820.85H556.6M552 847.4H556.6M561.9 847.4V852M573.85 847.4V852M585.8 847.4V852M597.75 847.4V852M609.7 847.4V852M621.65 847.4V852M633.6 847.4V852M645.55 847.4V852M657.5 847.4V852" fill="none" stroke="#000" stroke-width="1.15"/>
<text transform="translate(561.2 864.2) rotate(-45)" text-anchor="end" font-size="7.9">media</text>
<text transform="translate(574.15 863.4) rotate(-45)" text-anchor="end" font-size="7.9">IC</text>
<text transform="translate(585.1 864.2) rotate(-45)" text-anchor="end" font-size="7.9">anti-IgM</text>
<text transform="translate(597.05 864.2) rotate(-45)" text-anchor="end" font-size="7.9">media</text>
<text transform="translate(610 863.4) rotate(-45)" text-anchor="end" font-size="7.9">IC</text>
<text transform="translate(620.95 864.2) rotate(-45)" text-anchor="end" font-size="7.9">anti-IgM</text>
<text transform="translate(632.9 864.2) rotate(-45)" text-anchor="end" font-size="7.9">media</text>
<text transform="translate(645.85 863.4) rotate(-45)" text-anchor="end" font-size="7.9">IC</text>
<text transform="translate(656.8 864.2) rotate(-45)" text-anchor="end" font-size="7.9">anti-IgM</text>
<text transform="translate(528.05 844.3) rotate(-90)" font-size="9.8" textLength="105.4" lengthAdjust="spacingAndGlyphs" xml:space="preserve">IL-1β  [pg/ml fold change]</text>
<path d="M562.8 753.6V748.3H598.6V753.6" fill="none" stroke="#000" stroke-width="1.0"/>
<text x="581.1" y="743.3" class="n" text-anchor="middle" font-size="12">ns</text>
<path d="M570.31 813.21H578.29" stroke="#000000" stroke-width="1.0"/>
<path d="M582.45 798.56H590.28" stroke="#000000" stroke-width="1.0"/>
<path d="M606.09 811.54H613.91" stroke="#00b400" stroke-width="1.0"/>
<path d="M618.07 797.4H626.06" stroke="#00b400" stroke-width="1.0"/>
<path d="M629.38 820.7H637.7" stroke="#ff0000" stroke-width="1.0"/>
<path d="M641.53 809.55H649.69" stroke="#ff0000" stroke-width="1.0"/>
<path d="M653.51 791.57H661.84" stroke="#ff0000" stroke-width="1.0"/>
<circle cx="558.66" cy="821.2" r="2.38" fill="#000000"/>
<circle cx="559.66" cy="821.2" r="2.38" fill="#000000"/>
<circle cx="560.65" cy="821.2" r="2.38" fill="#000000"/>
<circle cx="561.65" cy="821.2" r="2.38" fill="#000000"/>
<circle cx="562.65" cy="821.2" r="2.38" fill="#000000"/>
<circle cx="563.65" cy="821.2" r="2.38" fill="#000000"/>
<circle cx="564.98" cy="821.2" r="2.38" fill="#000000"/>
<circle cx="577.3" cy="802.72" r="2.38" fill="#000000"/>
<circle cx="574.13" cy="807.72" r="2.38" fill="#000000"/>
<circle cx="570.81" cy="812.04" r="2.38" fill="#000000"/>
<circle cx="574.13" cy="815.37" r="2.38" fill="#000000"/>
<circle cx="577.3" cy="817.37" r="2.38" fill="#000000"/>
<circle cx="574.13" cy="822.86" r="2.38" fill="#000000"/>
<circle cx="586.12" cy="761.12" r="2.38" fill="#000000"/>
<circle cx="586.12" cy="767.44" r="2.38" fill="#000000"/>
<circle cx="583.12" cy="798.56" r="2.38" fill="#000000"/>
<circle cx="586.12" cy="798.56" r="2.38" fill="#000000"/>
<circle cx="586.12" cy="821.53" r="2.38" fill="#000000"/>
<circle cx="588.94" cy="821.03" r="2.38" fill="#000000"/>
<rect x="595.51" y="771.52" width="4.5" height="4.5" fill="#00b400"/>
<rect x="592.69" y="818.45" width="4.5" height="4.5" fill="#00b400"/>
<rect x="598.84" y="817.28" width="4.5" height="4.5" fill="#00b400"/>
<rect x="595.51" y="818.95" width="4.5" height="4.5" fill="#00b400"/>
<rect x="598.84" y="821.78" width="4.5" height="4.5" fill="#00b400"/>
<rect x="595.51" y="825.1" width="4.5" height="4.5" fill="#00b400"/>
<rect x="597.18" y="819.28" width="4.5" height="4.5" fill="#00b400"/>
<rect x="610.83" y="794.65" width="4.5" height="4.5" fill="#00b400"/>
<rect x="607.5" y="798.48" width="4.5" height="4.5" fill="#00b400"/>
<rect x="604.33" y="808.8" width="4.5" height="4.5" fill="#00b400"/>
<rect x="607.5" y="809.79" width="4.5" height="4.5" fill="#00b400"/>
<rect x="610.83" y="815.45" width="4.5" height="4.5" fill="#00b400"/>
<rect x="607.5" y="818.45" width="4.5" height="4.5" fill="#00b400"/>
<rect x="622.97" y="753.05" width="4.5" height="4.5" fill="#00b400"/>
<rect x="619.31" y="757.71" width="4.5" height="4.5" fill="#00b400"/>
<rect x="616.32" y="793.48" width="4.5" height="4.5" fill="#00b400"/>
<rect x="619.98" y="795.65" width="4.5" height="4.5" fill="#00b400"/>
<rect x="619.31" y="819.61" width="4.5" height="4.5" fill="#00b400"/>
<rect x="622.64" y="819.61" width="4.5" height="4.5" fill="#00b400"/>
<path d="M633.54 795L636.04 799.8H631.04Z" fill="#ff0000"/>
<path d="M632.21 812.97L634.71 817.77H629.71Z" fill="#ff0000"/>
<path d="M630.22 817.47L632.72 822.27H627.72Z" fill="#ff0000"/>
<path d="M636.87 817.13L639.37 821.93H634.37Z" fill="#ff0000"/>
<path d="M633.54 819.13L636.04 823.93H631.04Z" fill="#ff0000"/>
<path d="M633.54 825.45L636.04 830.25H631.04Z" fill="#ff0000"/>
<path d="M645.69 795.33L648.19 800.13H643.19Z" fill="#ff0000"/>
<path d="M643.53 806.15L646.03 810.95H641.03Z" fill="#ff0000"/>
<path d="M648.85 806.65L651.35 811.45H646.35Z" fill="#ff0000"/>
<path d="M641.87 807.48L644.37 812.28H639.37Z" fill="#ff0000"/>
<path d="M645.69 812.81L648.19 817.61H643.19Z" fill="#ff0000"/>
<path d="M645.69 819.13L648.19 823.93H643.19Z" fill="#ff0000"/>
<path d="M654.35 754.23L656.85 759.03H651.85Z" fill="#ff0000"/>
<path d="M657.67 757.22L660.17 762.02H655.17Z" fill="#ff0000"/>
<path d="M657.67 785.35L660.17 790.15H655.17Z" fill="#ff0000"/>
<path d="M657.67 795L660.17 799.8H655.17Z" fill="#ff0000"/>
<path d="M661 817.96L663.5 822.76H658.5Z" fill="#ff0000"/>
<path d="M657.67 819.46L660.17 824.26H655.17Z" fill="#ff0000"/>
</g>
<g id="f1" class="p">
<path d="M79.5 907.5V1013.8H185.6" fill="none" stroke="#000" stroke-width="1.15"/>
<text x="72.55" y="910.5" text-anchor="end" font-size="7.55">10</text>
<text x="72.55" y="963.4" text-anchor="end" font-size="7.55">1</text>
<text x="72.55" y="1016.3" text-anchor="end" font-size="7.55">0.1</text>
<path d="M74.9 908H79.5M74.9 960.9H79.5M74.9 1013.8H79.5M84.5 1013.8V1018.4M96.38 1013.8V1018.4M108.26 1013.8V1018.4M120.14 1013.8V1018.4M132.02 1013.8V1018.4M143.9 1013.8V1018.4M155.78 1013.8V1018.4M167.66 1013.8V1018.4M179.54 1013.8V1018.4" fill="none" stroke="#000" stroke-width="1.15"/>
<text transform="translate(85.8 1028) rotate(-45)" text-anchor="end" font-size="7.9">media</text>
<text transform="translate(98.68 1027.2) rotate(-45)" text-anchor="end" font-size="7.9">IC</text>
<text transform="translate(109.56 1028) rotate(-45)" text-anchor="end" font-size="7.9">anti-IgM</text>
<text transform="translate(121.44 1028) rotate(-45)" text-anchor="end" font-size="7.9">media</text>
<text transform="translate(134.32 1027.2) rotate(-45)" text-anchor="end" font-size="7.9">IC</text>
<text transform="translate(145.2 1028) rotate(-45)" text-anchor="end" font-size="7.9">anti-IgM</text>
<text transform="translate(157.08 1028) rotate(-45)" text-anchor="end" font-size="7.9">media</text>
<text transform="translate(169.96 1027.2) rotate(-45)" text-anchor="end" font-size="7.9">IC</text>
<text transform="translate(180.84 1028) rotate(-45)" text-anchor="end" font-size="7.9">anti-IgM</text>
<text transform="translate(58.05 1009.8) rotate(-90)" font-size="9.8" textLength="104.3" lengthAdjust="spacingAndGlyphs" xml:space="preserve">IFNα  [pg/ml fold change]</text>
<path d="M85.2 930.8V925.5H120.4V930.8" fill="none" stroke="#000" stroke-width="1.0"/>
<text x="104" y="922.5" class="n" text-anchor="middle" font-size="12">ns</text>
<circle cx="81.82" cy="960.75" r="2.38" fill="#000000"/>
<circle cx="82.82" cy="960.75" r="2.38" fill="#000000"/>
<circle cx="83.82" cy="960.75" r="2.38" fill="#000000"/>
<circle cx="84.82" cy="960.75" r="2.38" fill="#000000"/>
<circle cx="85.82" cy="960.75" r="2.38" fill="#000000"/>
<circle cx="86.82" cy="960.75" r="2.38" fill="#000000"/>
<circle cx="87.98" cy="960.75" r="2.38" fill="#000000"/>
<circle cx="97.63" cy="949.1" r="2.38" fill="#000000"/>
<circle cx="95.14" cy="950.27" r="2.38" fill="#000000"/>
<circle cx="99.63" cy="950.27" r="2.38" fill="#000000"/>
<circle cx="93.47" cy="952.43" r="2.38" fill="#000000"/>
<circle cx="96.8" cy="952.76" r="2.38" fill="#000000"/>
<circle cx="96.3" cy="960.75" r="2.38" fill="#000000"/>
<circle cx="106.79" cy="949.93" r="2.38" fill="#000000"/>
<circle cx="109.28" cy="949.6" r="2.38" fill="#000000"/>
<circle cx="111.28" cy="950.27" r="2.38" fill="#000000"/>
<circle cx="105.62" cy="950.76" r="2.38" fill="#000000"/>
<circle cx="108.45" cy="952.1" r="2.38" fill="#000000"/>
<circle cx="108.45" cy="965.24" r="2.38" fill="#000000"/>
<rect x="117.02" y="955.17" width="4.5" height="4.5" fill="#00b400"/>
<rect x="121.18" y="955.67" width="4.5" height="4.5" fill="#00b400"/>
<rect x="114.52" y="957.67" width="4.5" height="4.5" fill="#00b400"/>
<rect x="117.85" y="958.5" width="4.5" height="4.5" fill="#00b400"/>
<rect x="121.18" y="962.33" width="4.5" height="4.5" fill="#00b400"/>
<rect x="117.85" y="964.66" width="4.5" height="4.5" fill="#00b400"/>
<rect x="128.17" y="946.52" width="4.5" height="4.5" fill="#00b400"/>
<rect x="132.33" y="948.02" width="4.5" height="4.5" fill="#00b400"/>
<rect x="127" y="951.34" width="4.5" height="4.5" fill="#00b400"/>
<rect x="130.33" y="950.68" width="4.5" height="4.5" fill="#00b400"/>
<rect x="132.83" y="957.17" width="4.5" height="4.5" fill="#00b400"/>
<rect x="129.83" y="960.5" width="4.5" height="4.5" fill="#00b400"/>
<rect x="144.98" y="943.52" width="4.5" height="4.5" fill="#00b400"/>
<rect x="141.65" y="947.35" width="4.5" height="4.5" fill="#00b400"/>
<rect x="138.32" y="951.34" width="4.5" height="4.5" fill="#00b400"/>
<rect x="144.98" y="950.51" width="4.5" height="4.5" fill="#00b400"/>
<rect x="141.48" y="953.17" width="4.5" height="4.5" fill="#00b400"/>
<rect x="141.48" y="963.16" width="4.5" height="4.5" fill="#00b400"/>
<path d="M158.88 948.36L161.38 953.16H156.38Z" fill="#ff0000"/>
<path d="M152.88 950.03L155.38 954.83H150.38Z" fill="#ff0000"/>
<path d="M155.88 952.19L158.38 956.99H153.38Z" fill="#ff0000"/>
<path d="M152.55 955.85L155.05 960.65H150.05Z" fill="#ff0000"/>
<path d="M158.88 957.18L161.38 961.98H156.38Z" fill="#ff0000"/>
<path d="M155.55 961.68L158.05 966.48H153.05Z" fill="#ff0000"/>
<path d="M167.53 947.2L170.03 952H165.03Z" fill="#ff0000"/>
<path d="M164.53 948.86L167.03 953.66H162.03Z" fill="#ff0000"/>
<path d="M167.53 955.02L170.03 959.82H165.03Z" fill="#ff0000"/>
<path d="M164.53 957.18L167.03 961.98H162.03Z" fill="#ff0000"/>
<path d="M170.86 957.18L173.36 961.98H168.36Z" fill="#ff0000"/>
<path d="M167.53 961.68L170.03 966.48H165.03Z" fill="#ff0000"/>
<path d="M180.84 944.2L183.34 949H178.34Z" fill="#ff0000"/>
<path d="M176.68 945.87L179.18 950.67H174.18Z" fill="#ff0000"/>
<path d="M182.51 946.2L185.01 951H180.01Z" fill="#ff0000"/>
<path d="M179.18 947.2L181.68 952H176.68Z" fill="#ff0000"/>
<path d="M179.51 955.85L182.01 960.65H177.01Z" fill="#ff0000"/>
<path d="M179.51 965.84L182.01 970.64H177.01Z" fill="#ff0000"/>
</g>
<g id="f2" class="p">
<path d="M238.3 910.3V1013.5H342.3" fill="none" stroke="#000" stroke-width="1.15"/>
<text x="230.95" y="913.3" text-anchor="end" font-size="7.55">100</text>
<text x="230.95" y="947.53" text-anchor="end" font-size="7.55">10</text>
<text x="230.95" y="981.77" text-anchor="end" font-size="7.55">1</text>
<text x="230.95" y="1016" text-anchor="end" font-size="7.55">0.1</text>
<path d="M233.7 910.8H238.3M233.7 945.03H238.3M233.7 979.27H238.3M233.7 1013.5H238.3M243.6 1013.5V1018.1M255.2 1013.5V1018.1M266.8 1013.5V1018.1M278.4 1013.5V1018.1M290 1013.5V1018.1M301.6 1013.5V1018.1M313.2 1013.5V1018.1M324.8 1013.5V1018.1M336.4 1013.5V1018.1" fill="none" stroke="#000" stroke-width="1.15"/>
<text transform="translate(243.9 1027.3) rotate(-45)" text-anchor="end" font-size="7.9">media</text>
<text transform="translate(256.5 1026.5) rotate(-45)" text-anchor="end" font-size="7.9">IC</text>
<text transform="translate(267.1 1027.3) rotate(-45)" text-anchor="end" font-size="7.9">anti-IgM</text>
<text transform="translate(278.7 1027.3) rotate(-45)" text-anchor="end" font-size="7.9">media</text>
<text transform="translate(291.3 1026.5) rotate(-45)" text-anchor="end" font-size="7.9">IC</text>
<text transform="translate(301.9 1027.3) rotate(-45)" text-anchor="end" font-size="7.9">anti-IgM</text>
<text transform="translate(313.5 1027.3) rotate(-45)" text-anchor="end" font-size="7.9">media</text>
<text transform="translate(326.1 1026.5) rotate(-45)" text-anchor="end" font-size="7.9">IC</text>
<text transform="translate(336.7 1027.3) rotate(-45)" text-anchor="end" font-size="7.9">anti-IgM</text>
<text transform="translate(214.45 1008.8) rotate(-90)" font-size="9.8" textLength="102.9" lengthAdjust="spacingAndGlyphs" xml:space="preserve">IFNβ  [pg/ml fold change]</text>
<path d="M242.8 939.9V934.6H278.3V939.9" fill="none" stroke="#000" stroke-width="1.0"/>
<text x="262.5" y="930.3" class="n" text-anchor="middle" font-size="12">ns</text>
<path d="M251.31 978.23H259.13" stroke="#000000" stroke-width="1.0"/>
<path d="M263.29 969.91H270.78" stroke="#000000" stroke-width="1.0"/>
<path d="M332.02 972.41H339.84" stroke="#ff0000" stroke-width="1.0"/>
<circle cx="240.82" cy="979.4" r="2.38" fill="#000000"/>
<circle cx="241.82" cy="979.4" r="2.38" fill="#000000"/>
<circle cx="242.82" cy="979.4" r="2.38" fill="#000000"/>
<circle cx="243.82" cy="979.4" r="2.38" fill="#000000"/>
<circle cx="244.82" cy="979.4" r="2.38" fill="#000000"/>
<circle cx="245.82" cy="979.4" r="2.38" fill="#000000"/>
<circle cx="246.98" cy="979.4" r="2.38" fill="#000000"/>
<circle cx="254.97" cy="967.41" r="2.38" fill="#000000"/>
<circle cx="258.3" cy="972.41" r="2.38" fill="#000000"/>
<circle cx="252.14" cy="977.4" r="2.38" fill="#000000"/>
<circle cx="254.97" cy="978.56" r="2.38" fill="#000000"/>
<circle cx="258.3" cy="982.72" r="2.38" fill="#000000"/>
<circle cx="254.97" cy="986.05" r="2.38" fill="#000000"/>
<circle cx="269.95" cy="964.09" r="2.38" fill="#000000"/>
<circle cx="264.12" cy="967.08" r="2.38" fill="#000000"/>
<circle cx="267.12" cy="968.58" r="2.38" fill="#000000"/>
<circle cx="264.12" cy="972.41" r="2.38" fill="#000000"/>
<circle cx="269.95" cy="972.74" r="2.38" fill="#000000"/>
<circle cx="266.62" cy="974.9" r="2.38" fill="#000000"/>
<rect x="276.02" y="974.82" width="4.5" height="4.5" fill="#00b400"/>
<rect x="273.02" y="977.65" width="4.5" height="4.5" fill="#00b400"/>
<rect x="278.51" y="978.14" width="4.5" height="4.5" fill="#00b400"/>
<rect x="275.69" y="979.31" width="4.5" height="4.5" fill="#00b400"/>
<rect x="275.69" y="982.14" width="4.5" height="4.5" fill="#00b400"/>
<rect x="275.69" y="988.13" width="4.5" height="4.5" fill="#00b400"/>
<rect x="287.17" y="965.5" width="4.5" height="4.5" fill="#00b400"/>
<rect x="290.5" y="971.82" width="4.5" height="4.5" fill="#00b400"/>
<rect x="284.34" y="973.82" width="4.5" height="4.5" fill="#00b400"/>
<rect x="287.17" y="975.65" width="4.5" height="4.5" fill="#00b400"/>
<rect x="290.5" y="986.47" width="4.5" height="4.5" fill="#00b400"/>
<rect x="287.17" y="992.62" width="4.5" height="4.5" fill="#00b400"/>
<rect x="297.15" y="962.67" width="4.5" height="4.5" fill="#00b400"/>
<rect x="302.31" y="962.67" width="4.5" height="4.5" fill="#00b400"/>
<rect x="295.66" y="965.16" width="4.5" height="4.5" fill="#00b400"/>
<rect x="298.98" y="968.49" width="4.5" height="4.5" fill="#00b400"/>
<rect x="302.31" y="973.98" width="4.5" height="4.5" fill="#00b400"/>
<rect x="298.98" y="975.48" width="4.5" height="4.5" fill="#00b400"/>
<rect x="300.15" y="965.66" width="4.5" height="4.5" fill="#00b400"/>
<path d="M314.05 975.83L316.55 980.63H311.55Z" fill="#ff0000"/>
<path d="M311.55 976.66L314.05 981.46H309.05Z" fill="#ff0000"/>
<path d="M315.71 977.16L318.21 981.96H313.21Z" fill="#ff0000"/>
<path d="M309.39 979.16L311.89 983.96H306.89Z" fill="#ff0000"/>
<path d="M312.72 979.66L315.22 984.46H310.22Z" fill="#ff0000"/>
<path d="M312.72 1002.96L315.22 1007.76H310.22Z" fill="#ff0000"/>
<path d="M324.37 966.35L326.87 971.15H321.87Z" fill="#ff0000"/>
<path d="M327.36 974.67L329.86 979.47H324.86Z" fill="#ff0000"/>
<path d="M324.37 976.16L326.87 980.96H321.87Z" fill="#ff0000"/>
<path d="M321.04 978.66L323.54 983.46H318.54Z" fill="#ff0000"/>
<path d="M324.37 983.82L326.87 988.62H321.87Z" fill="#ff0000"/>
<path d="M324.37 992.47L326.87 997.27H321.87Z" fill="#ff0000"/>
<path d="M332.69 963.85L335.19 968.65H330.19Z" fill="#ff0000"/>
<path d="M335.68 965.51L338.18 970.31H333.18Z" fill="#ff0000"/>
<path d="M337.68 969.67L340.18 974.47H335.18Z" fill="#ff0000"/>
<path d="M332.69 970.84L335.19 975.64H330.19Z" fill="#ff0000"/>
<path d="M339.01 974.17L341.51 978.97H336.51Z" fill="#ff0000"/>
<path d="M335.68 975L338.18 979.8H333.18Z" fill="#ff0000"/>
</g>
<g id="f3" class="p">
<path d="M397.6 910V1013.5H501.3" fill="none" stroke="#000" stroke-width="1.15"/>
<text x="388.55" y="913" text-anchor="end" font-size="7.55">10000</text>
<text x="388.55" y="933.6" text-anchor="end" font-size="7.55">1000</text>
<text x="388.55" y="954.2" text-anchor="end" font-size="7.55">100</text>
<text x="388.55" y="974.8" text-anchor="end" font-size="7.55">10</text>
<text x="388.55" y="995.4" text-anchor="end" font-size="7.55">1</text>
<text x="388.55" y="1016" text-anchor="end" font-size="7.55">0.1</text>
<path d="M393 910.5H397.6M393 931.1H397.6M393 951.7H397.6M393 972.3H397.6M393 992.9H397.6M393 1013.5H397.6M403.1 1013.5V1018.1M414.62 1013.5V1018.1M426.14 1013.5V1018.1M437.66 1013.5V1018.1M449.18 1013.5V1018.1M460.7 1013.5V1018.1M472.22 1013.5V1018.1M483.74 1013.5V1018.1M495.26 1013.5V1018.1" fill="none" stroke="#000" stroke-width="1.15"/>
<text transform="translate(403.1 1027.3) rotate(-45)" text-anchor="end" font-size="7.9">media</text>
<text transform="translate(415.62 1026.5) rotate(-45)" text-anchor="end" font-size="7.9">IC</text>
<text transform="translate(426.14 1027.3) rotate(-45)" text-anchor="end" font-size="7.9">anti-IgM</text>
<text transform="translate(437.66 1027.3) rotate(-45)" text-anchor="end" font-size="7.9">media</text>
<text transform="translate(450.18 1026.5) rotate(-45)" text-anchor="end" font-size="7.9">IC</text>
<text transform="translate(460.7 1027.3) rotate(-45)" text-anchor="end" font-size="7.9">anti-IgM</text>
<text transform="translate(472.22 1027.3) rotate(-45)" text-anchor="end" font-size="7.9">media</text>
<text transform="translate(484.74 1026.5) rotate(-45)" text-anchor="end" font-size="7.9">IC</text>
<text transform="translate(495.26 1027.3) rotate(-45)" text-anchor="end" font-size="7.9">anti-IgM</text>
<text transform="translate(366.85 1008.2) rotate(-90)" font-size="9.8" textLength="101.45" lengthAdjust="spacingAndGlyphs" xml:space="preserve">IFNγ  [pg/ml fold change]</text>
<path d="M402.7 945.3V940H437.8V945.3" fill="none" stroke="#000" stroke-width="1.0"/>
<text x="417.3" y="935" class="n" text-anchor="middle" font-size="12">ns</text>
<path d="M410.64 977.9H418.63" stroke="#000000" stroke-width="1.0"/>
<path d="M421.96 991.21H429.78" stroke="#000000" stroke-width="1.0"/>
<path d="M445.26 976.57H453.08" stroke="#00b400" stroke-width="1.0"/>
<path d="M456.41 991.54H464.73" stroke="#00b400" stroke-width="1.0"/>
<path d="M491.35 992.38H499.18" stroke="#ff0000" stroke-width="1.0"/>
<circle cx="399.99" cy="992.71" r="2.38" fill="#000000"/>
<circle cx="400.99" cy="992.71" r="2.38" fill="#000000"/>
<circle cx="401.99" cy="992.71" r="2.38" fill="#000000"/>
<circle cx="402.99" cy="992.71" r="2.38" fill="#000000"/>
<circle cx="403.99" cy="992.71" r="2.38" fill="#000000"/>
<circle cx="404.98" cy="992.71" r="2.38" fill="#000000"/>
<circle cx="406.31" cy="992.71" r="2.38" fill="#000000"/>
<circle cx="414.3" cy="962.42" r="2.38" fill="#000000"/>
<circle cx="414.3" cy="972.91" r="2.38" fill="#000000"/>
<circle cx="411.14" cy="976.07" r="2.38" fill="#000000"/>
<circle cx="414.3" cy="980.73" r="2.38" fill="#000000"/>
<circle cx="417.3" cy="983.72" r="2.38" fill="#000000"/>
<circle cx="414.3" cy="987.88" r="2.38" fill="#000000"/>
<circle cx="423.12" cy="985.72" r="2.38" fill="#000000"/>
<circle cx="429.28" cy="987.05" r="2.38" fill="#000000"/>
<circle cx="425.95" cy="988.22" r="2.38" fill="#000000"/>
<circle cx="423.12" cy="996.54" r="2.38" fill="#000000"/>
<circle cx="425.95" cy="999.87" r="2.38" fill="#000000"/>
<circle cx="425.95" cy="1013.18" r="2.38" fill="#000000"/>
<rect x="435.35" y="986.8" width="4.5" height="4.5" fill="#00b400"/>
<rect x="432.52" y="994.29" width="4.5" height="4.5" fill="#00b400"/>
<rect x="435.35" y="993.45" width="4.5" height="4.5" fill="#00b400"/>
<rect x="438.35" y="994.62" width="4.5" height="4.5" fill="#00b400"/>
<rect x="435.35" y="997.62" width="4.5" height="4.5" fill="#00b400"/>
<rect x="436.68" y="995.95" width="4.5" height="4.5" fill="#00b400"/>
<rect x="434.19" y="995.62" width="4.5" height="4.5" fill="#00b400"/>
<rect x="449.66" y="961" width="4.5" height="4.5" fill="#00b400"/>
<rect x="446.67" y="965.5" width="4.5" height="4.5" fill="#00b400"/>
<rect x="443.67" y="973.15" width="4.5" height="4.5" fill="#00b400"/>
<rect x="446.67" y="975.48" width="4.5" height="4.5" fill="#00b400"/>
<rect x="449.66" y="982.97" width="4.5" height="4.5" fill="#00b400"/>
<rect x="446.67" y="987.3" width="4.5" height="4.5" fill="#00b400"/>
<rect x="461.31" y="981.47" width="4.5" height="4.5" fill="#00b400"/>
<rect x="454.99" y="984.63" width="4.5" height="4.5" fill="#00b400"/>
<rect x="457.98" y="986.47" width="4.5" height="4.5" fill="#00b400"/>
<rect x="457.98" y="994.29" width="4.5" height="4.5" fill="#00b400"/>
<rect x="461.31" y="993.79" width="4.5" height="4.5" fill="#00b400"/>
<path d="M471.72 987.98L474.22 992.78H469.22Z" fill="#ff0000"/>
<path d="M469.72 991.64L472.22 996.44H467.22Z" fill="#ff0000"/>
<path d="M473.55 992.14L476.05 996.94H471.05Z" fill="#ff0000"/>
<path d="M468.39 993.3L470.89 998.1H465.89Z" fill="#ff0000"/>
<path d="M471.72 994.47L474.22 999.27H469.22Z" fill="#ff0000"/>
<path d="M475.05 994.14L477.55 998.94H472.55Z" fill="#ff0000"/>
<path d="M486.36 967.18L488.86 971.98H483.86Z" fill="#ff0000"/>
<path d="M483.37 968.34L485.87 973.14H480.87Z" fill="#ff0000"/>
<path d="M483.37 979.66L485.87 984.46H480.87Z" fill="#ff0000"/>
<path d="M480.04 986.65L482.54 991.45H477.54Z" fill="#ff0000"/>
<path d="M486.36 988.65L488.86 993.45H483.86Z" fill="#ff0000"/>
<path d="M483.37 992.47L485.87 997.27H480.87Z" fill="#ff0000"/>
<path d="M498.01 986.15L500.51 990.95H495.51Z" fill="#ff0000"/>
<path d="M492.19 988.81L494.69 993.61H489.69Z" fill="#ff0000"/>
<path d="M495.02 989.98L497.52 994.78H492.52Z" fill="#ff0000"/>
<path d="M498.01 994.14L500.51 998.94H495.51Z" fill="#ff0000"/>
<path d="M494.68 995.3L497.18 1000.1H492.18Z" fill="#ff0000"/>
</g>
<g id="f4" class="p">
<path d="M558.2 914.5V1018.1H661.8" fill="none" stroke="#000" stroke-width="1.15"/>
<text x="551.55" y="917.5" text-anchor="end" font-size="7.55">1000</text>
<text x="551.55" y="943.27" text-anchor="end" font-size="7.55">100</text>
<text x="551.55" y="969.05" text-anchor="end" font-size="7.55">10</text>
<text x="551.55" y="994.83" text-anchor="end" font-size="7.55">1</text>
<text x="551.55" y="1020.6" text-anchor="end" font-size="7.55">0.1</text>
<path d="M553.6 915H558.2M553.6 940.77H558.2M553.6 966.55H558.2M553.6 992.33H558.2M553.6 1018.1H558.2M563.9 1018.1V1022.7M575.42 1018.1V1022.7M586.94 1018.1V1022.7M598.46 1018.1V1022.7M609.98 1018.1V1022.7M621.5 1018.1V1022.7M633.02 1018.1V1022.7M644.54 1018.1V1022.7M656.06 1018.1V1022.7" fill="none" stroke="#000" stroke-width="1.15"/>
<text transform="translate(563.5 1032.7) rotate(-45)" text-anchor="end" font-size="7.9">media</text>
<text transform="translate(576.02 1031.9) rotate(-45)" text-anchor="end" font-size="7.9">IC</text>
<text transform="translate(586.54 1032.7) rotate(-45)" text-anchor="end" font-size="7.9">anti-IgM</text>
<text transform="translate(598.06 1032.7) rotate(-45)" text-anchor="end" font-size="7.9">media</text>
<text transform="translate(610.58 1031.9) rotate(-45)" text-anchor="end" font-size="7.9">IC</text>
<text transform="translate(621.1 1032.7) rotate(-45)" text-anchor="end" font-size="7.9">anti-IgM</text>
<text transform="translate(632.62 1032.7) rotate(-45)" text-anchor="end" font-size="7.9">media</text>
<text transform="translate(645.14 1031.9) rotate(-45)" text-anchor="end" font-size="7.9">IC</text>
<text transform="translate(655.66 1032.7) rotate(-45)" text-anchor="end" font-size="7.9">anti-IgM</text>
<text transform="translate(531.25 1017.5) rotate(-90)" font-size="9.8" textLength="117.5" lengthAdjust="spacingAndGlyphs" xml:space="preserve">GM-CSF [pg/ml fold change]</text>
<path d="M563.7 954.7V949.4H599.4V954.7" fill="none" stroke="#000" stroke-width="1.0"/>
<text x="582.5" y="943.6" class="n" text-anchor="middle" font-size="12">ns</text>
<path d="M571.31 992.38H579.46" stroke="#000000" stroke-width="1.0"/>
<path d="M583.29 979.4H590.78" stroke="#000000" stroke-width="1.0"/>
<path d="M617.41 979.9H625.23" stroke="#00b400" stroke-width="1.0"/>
<path d="M640.21 996.05H648.19" stroke="#ff0000" stroke-width="1.0"/>
<path d="M652.35 979.07H660.18" stroke="#ff0000" stroke-width="1.0"/>
<circle cx="560.82" cy="992.38" r="2.38" fill="#000000"/>
<circle cx="561.82" cy="992.38" r="2.38" fill="#000000"/>
<circle cx="562.82" cy="992.38" r="2.38" fill="#000000"/>
<circle cx="563.82" cy="992.38" r="2.38" fill="#000000"/>
<circle cx="564.82" cy="992.38" r="2.38" fill="#000000"/>
<circle cx="565.82" cy="992.38" r="2.38" fill="#000000"/>
<circle cx="566.98" cy="992.38" r="2.38" fill="#000000"/>
<circle cx="574.97" cy="979.9" r="2.38" fill="#000000"/>
<circle cx="578.3" cy="986.56" r="2.38" fill="#000000"/>
<circle cx="572.14" cy="992.72" r="2.38" fill="#000000"/>
<circle cx="575.3" cy="991.88" r="2.38" fill="#000000"/>
<circle cx="574.97" cy="999.04" r="2.38" fill="#000000"/>
<circle cx="575.3" cy="1006.03" r="2.38" fill="#000000"/>
<circle cx="586.95" cy="960.76" r="2.38" fill="#000000"/>
<circle cx="586.95" cy="971.91" r="2.38" fill="#000000"/>
<circle cx="583.62" cy="977.74" r="2.38" fill="#000000"/>
<circle cx="586.95" cy="982.73" r="2.38" fill="#000000"/>
<circle cx="589.95" cy="990.72" r="2.38" fill="#000000"/>
<circle cx="586.95" cy="992.88" r="2.38" fill="#000000"/>
<rect x="596.02" y="985.47" width="4.5" height="4.5" fill="#00b400"/>
<rect x="593.52" y="989.63" width="4.5" height="4.5" fill="#00b400"/>
<rect x="596.02" y="990.63" width="4.5" height="4.5" fill="#00b400"/>
<rect x="592.69" y="993.8" width="4.5" height="4.5" fill="#00b400"/>
<rect x="596.35" y="995.13" width="4.5" height="4.5" fill="#00b400"/>
<rect x="599.35" y="994.63" width="4.5" height="4.5" fill="#00b400"/>
<rect x="597.68" y="992.63" width="4.5" height="4.5" fill="#00b400"/>
<rect x="607.67" y="977.65" width="4.5" height="4.5" fill="#00b400"/>
<rect x="604.67" y="985.47" width="4.5" height="4.5" fill="#00b400"/>
<rect x="610.66" y="985.47" width="4.5" height="4.5" fill="#00b400"/>
<rect x="607.67" y="987.14" width="4.5" height="4.5" fill="#00b400"/>
<rect x="610.66" y="998.79" width="4.5" height="4.5" fill="#00b400"/>
<rect x="607.33" y="1003.11" width="4.5" height="4.5" fill="#00b400"/>
<rect x="618.98" y="950.19" width="4.5" height="4.5" fill="#00b400"/>
<rect x="618.98" y="968.17" width="4.5" height="4.5" fill="#00b400"/>
<rect x="615.66" y="975.49" width="4.5" height="4.5" fill="#00b400"/>
<rect x="618.98" y="980.48" width="4.5" height="4.5" fill="#00b400"/>
<rect x="622.15" y="990.13" width="4.5" height="4.5" fill="#00b400"/>
<rect x="618.98" y="990.97" width="4.5" height="4.5" fill="#00b400"/>
<path d="M632.88 988.32L635.38 993.12H630.38Z" fill="#ff0000"/>
<path d="M630.72 993.31L633.22 998.11H628.22Z" fill="#ff0000"/>
<path d="M634.88 993.31L637.38 998.11H632.38Z" fill="#ff0000"/>
<path d="M629.39 995.31L631.89 1000.11H626.89Z" fill="#ff0000"/>
<path d="M636.05 995.31L638.55 1000.11H633.55Z" fill="#ff0000"/>
<path d="M632.72 997.47L635.22 1002.27H630.22Z" fill="#ff0000"/>
<path d="M644.37 978.83L646.87 983.63H641.87Z" fill="#ff0000"/>
<path d="M644.37 985.32L646.87 990.12H641.87Z" fill="#ff0000"/>
<path d="M641.04 993.31L643.54 998.11H638.54Z" fill="#ff0000"/>
<path d="M644.37 993.65L646.87 998.45H641.87Z" fill="#ff0000"/>
<path d="M647.36 999.64L649.86 1004.44H644.86Z" fill="#ff0000"/>
<path d="M644.37 1001.3L646.87 1006.1H641.87Z" fill="#ff0000"/>
<path d="M655.68 944.55L658.18 949.35H653.18Z" fill="#ff0000"/>
<path d="M655.68 967.52L658.18 972.32H653.18Z" fill="#ff0000"/>
<path d="M659.01 976.34L661.51 981.14H656.51Z" fill="#ff0000"/>
<path d="M655.68 978L658.18 982.8H653.18Z" fill="#ff0000"/>
<path d="M655.68 985.82L658.18 990.62H653.18Z" fill="#ff0000"/>
<path d="M655.68 994.14L658.18 998.94H653.18Z" fill="#ff0000"/>
</g>
</svg></body></html>
